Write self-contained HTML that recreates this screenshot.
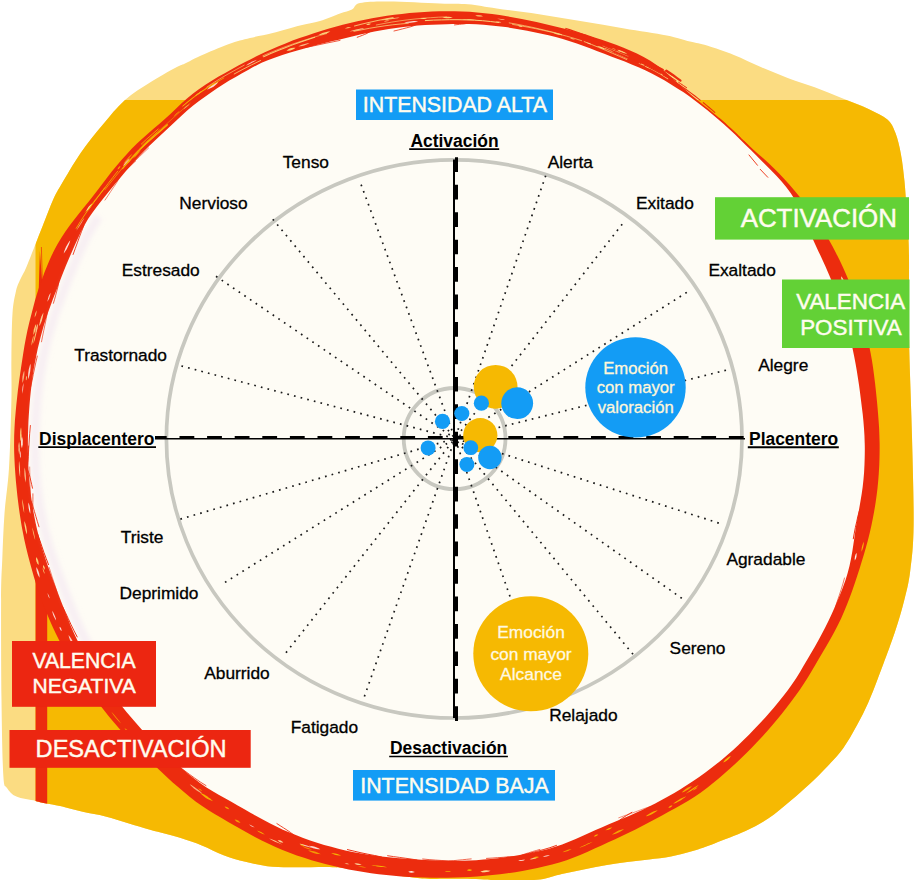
<!DOCTYPE html>
<html lang="es"><head><meta charset="utf-8"><title>Circumplejo de emociones</title>
<style>
html,body{margin:0;padding:0;background:#fff;}
body{width:917px;height:880px;overflow:hidden;}
svg{display:block;}
text{font-family:"Liberation Sans",sans-serif;}
.lb{font-size:17.33px;fill:#000;stroke:#000;stroke-width:0.3px;}
.ax{font-size:17.45px;font-weight:bold;fill:#000;}
.ct{font-size:16.7px;fill:#FFF6D8;stroke:#FFF6D8;stroke-width:0.3px;text-anchor:middle;}
.bx{fill:#FFFCEE;stroke:#FFFCEE;stroke-width:0.45px;}
</style></head><body>
<svg width="917" height="880" viewBox="0 0 917 880">
<defs><clipPath id="oc"><rect x="35.5" y="100" width="900" height="800"/></clipPath>
<clipPath id="bc"><path d="M3.3,775.0C2.4,760.3 1.9,729.2 1.5,700.0C1.1,670.8 1.0,623.5 1.1,600.0C1.2,576.5 1.7,573.4 2.3,559.0C2.9,544.6 3.4,528.8 4.5,513.6C5.6,498.4 7.8,486.9 9.0,468.0C10.2,449.1 11.0,418.2 11.4,400.0C11.8,381.8 11.2,373.4 11.4,359.0C11.6,344.6 11.7,324.9 12.5,313.6C13.3,302.3 14.7,296.8 16.0,291.0C17.3,285.2 18.8,282.8 20.5,279.0C22.2,275.2 23.8,273.2 26.0,268.0C28.2,262.8 30.8,256.0 34.0,248.0C37.2,240.0 41.8,228.0 45.0,220.0C48.2,212.0 50.3,205.8 53.0,200.0C55.7,194.2 56.3,192.9 61.0,185.0C65.7,177.1 74.1,162.5 81.0,152.5C87.9,142.5 95.2,133.8 102.5,125.0C109.8,116.2 117.1,107.1 125.0,100.0C132.9,92.9 141.7,87.8 150.0,82.5C158.3,77.2 169.2,71.2 175.0,68.0C180.8,64.8 180.8,65.6 185.0,63.6C189.2,61.6 192.7,59.3 200.0,56.0C207.3,52.7 220.7,47.0 229.0,44.0C237.3,41.0 242.7,39.8 250.0,38.0C257.3,36.2 264.4,35.1 272.7,33.0C281.0,30.9 292.1,27.5 300.0,25.5C307.9,23.5 313.3,23.0 320.0,21.0C326.7,19.0 334.7,15.4 340.0,13.5C345.3,11.6 348.7,11.2 352.0,9.5C355.3,7.8 353.9,4.3 360.0,3.0C366.1,1.7 375.2,1.3 388.5,1.4C401.8,1.5 426.8,2.9 440.0,3.4C453.2,3.9 458.6,3.4 468.0,4.3C477.4,5.1 484.9,6.9 496.7,8.5C508.5,10.2 524.8,12.1 539.0,14.2C553.2,16.3 567.6,18.9 581.8,21.3C596.0,23.7 610.1,26.0 624.3,28.4C638.5,30.8 655.8,33.2 666.8,35.4C677.8,37.6 683.3,39.8 690.0,41.5C696.7,43.2 699.7,43.4 707.0,45.6C714.3,47.9 724.9,51.4 733.9,55.0C742.9,58.6 751.8,63.3 760.8,67.1C769.8,70.9 778.7,74.5 787.7,77.9C796.7,81.3 805.7,83.9 814.7,87.3C823.7,90.7 832.6,94.5 841.6,98.1C850.6,101.7 860.9,105.3 868.5,108.9C876.1,112.5 882.9,115.6 887.4,119.6C891.9,123.6 893.2,127.2 895.5,133.1C897.8,138.9 899.5,146.6 901.0,154.7C902.5,162.8 903.6,172.6 904.5,181.6C905.4,190.6 905.9,200.1 906.5,208.5C907.1,216.9 907.8,223.9 908.2,232.0C908.6,240.1 908.9,245.7 909.0,257.0C909.1,268.3 909.0,284.5 909.0,300.0C909.0,315.5 908.8,327.2 909.3,350.0C909.8,372.8 911.3,407.8 912.0,437.0C912.7,466.2 913.9,503.2 913.6,525.5C913.3,547.8 911.8,558.5 910.2,570.9C908.7,583.3 906.8,589.9 904.3,600.0C901.8,610.1 898.5,621.2 895.0,631.8C891.5,642.4 886.5,655.6 883.5,663.6C880.5,671.6 879.8,673.5 877.3,680.0C874.8,686.5 871.6,695.1 868.2,702.7C864.8,710.3 861.0,717.9 856.8,725.5C852.6,733.1 848.1,741.4 843.2,748.2C838.3,755.0 833.0,760.4 827.3,766.4C821.6,772.4 815.2,778.8 809.1,784.5C803.0,790.2 797.7,794.8 790.9,800.5C784.1,806.2 775.8,813.5 768.2,818.6C760.6,823.7 754.5,827.0 745.5,831.1C736.5,835.2 723.3,840.1 714.5,843.4C705.7,846.7 700.0,848.8 692.7,851.0C685.4,853.2 678.2,855.1 670.9,856.5C663.6,857.9 656.3,858.5 649.0,859.4C641.7,860.3 634.5,861.0 627.2,862.0C619.9,863.0 612.7,863.9 605.4,865.2C598.1,866.5 590.9,868.1 583.6,869.6C576.3,871.1 569.1,872.4 561.8,874.0C554.5,875.6 549.5,878.2 540.0,879.4C530.5,880.6 514.3,881.0 505.0,881.0C495.7,881.0 493.2,879.9 484.0,879.5C474.8,879.1 460.3,879.0 450.0,878.8C439.7,878.6 433.2,879.4 422.0,878.5C410.8,877.6 395.7,875.0 383.0,873.3C370.3,871.6 354.2,869.3 345.8,868.3C337.4,867.3 338.5,867.4 332.7,867.2C326.9,867.0 318.2,867.2 310.9,867.2C303.6,867.2 296.3,867.4 289.0,867.2C281.7,867.0 274.5,867.1 267.2,866.2C259.9,865.3 252.7,863.6 245.4,861.8C238.1,860.0 230.9,857.9 223.6,855.2C216.3,852.5 209.1,848.3 201.8,845.4C194.5,842.5 188.5,840.4 180.0,837.8C171.5,835.2 159.5,832.4 150.9,830.0C142.3,827.6 135.8,825.5 128.2,823.2C120.6,820.9 113.1,818.3 105.5,816.4C97.9,814.5 90.3,813.5 82.7,811.8C75.1,810.1 66.0,807.5 60.0,806.1C54.0,804.7 50.5,804.5 46.4,803.6C42.3,802.7 40.5,802.1 35.5,800.9C30.5,799.7 21.1,798.8 16.4,796.6C11.6,794.5 9.2,791.6 7.0,788.0C4.8,784.4 4.2,789.7 3.3,775.0Z"/></clipPath></defs>

<path d="M3.3,775.0C2.4,760.3 1.9,729.2 1.5,700.0C1.1,670.8 1.0,623.5 1.1,600.0C1.2,576.5 1.7,573.4 2.3,559.0C2.9,544.6 3.4,528.8 4.5,513.6C5.6,498.4 7.8,486.9 9.0,468.0C10.2,449.1 11.0,418.2 11.4,400.0C11.8,381.8 11.2,373.4 11.4,359.0C11.6,344.6 11.7,324.9 12.5,313.6C13.3,302.3 14.7,296.8 16.0,291.0C17.3,285.2 18.8,282.8 20.5,279.0C22.2,275.2 23.8,273.2 26.0,268.0C28.2,262.8 30.8,256.0 34.0,248.0C37.2,240.0 41.8,228.0 45.0,220.0C48.2,212.0 50.3,205.8 53.0,200.0C55.7,194.2 56.3,192.9 61.0,185.0C65.7,177.1 74.1,162.5 81.0,152.5C87.9,142.5 95.2,133.8 102.5,125.0C109.8,116.2 117.1,107.1 125.0,100.0C132.9,92.9 141.7,87.8 150.0,82.5C158.3,77.2 169.2,71.2 175.0,68.0C180.8,64.8 180.8,65.6 185.0,63.6C189.2,61.6 192.7,59.3 200.0,56.0C207.3,52.7 220.7,47.0 229.0,44.0C237.3,41.0 242.7,39.8 250.0,38.0C257.3,36.2 264.4,35.1 272.7,33.0C281.0,30.9 292.1,27.5 300.0,25.5C307.9,23.5 313.3,23.0 320.0,21.0C326.7,19.0 334.7,15.4 340.0,13.5C345.3,11.6 348.7,11.2 352.0,9.5C355.3,7.8 353.9,4.3 360.0,3.0C366.1,1.7 375.2,1.3 388.5,1.4C401.8,1.5 426.8,2.9 440.0,3.4C453.2,3.9 458.6,3.4 468.0,4.3C477.4,5.1 484.9,6.9 496.7,8.5C508.5,10.2 524.8,12.1 539.0,14.2C553.2,16.3 567.6,18.9 581.8,21.3C596.0,23.7 610.1,26.0 624.3,28.4C638.5,30.8 655.8,33.2 666.8,35.4C677.8,37.6 683.3,39.8 690.0,41.5C696.7,43.2 699.7,43.4 707.0,45.6C714.3,47.9 724.9,51.4 733.9,55.0C742.9,58.6 751.8,63.3 760.8,67.1C769.8,70.9 778.7,74.5 787.7,77.9C796.7,81.3 805.7,83.9 814.7,87.3C823.7,90.7 832.6,94.5 841.6,98.1C850.6,101.7 860.9,105.3 868.5,108.9C876.1,112.5 882.9,115.6 887.4,119.6C891.9,123.6 893.2,127.2 895.5,133.1C897.8,138.9 899.5,146.6 901.0,154.7C902.5,162.8 903.6,172.6 904.5,181.6C905.4,190.6 905.9,200.1 906.5,208.5C907.1,216.9 907.8,223.9 908.2,232.0C908.6,240.1 908.9,245.7 909.0,257.0C909.1,268.3 909.0,284.5 909.0,300.0C909.0,315.5 908.8,327.2 909.3,350.0C909.8,372.8 911.3,407.8 912.0,437.0C912.7,466.2 913.9,503.2 913.6,525.5C913.3,547.8 911.8,558.5 910.2,570.9C908.7,583.3 906.8,589.9 904.3,600.0C901.8,610.1 898.5,621.2 895.0,631.8C891.5,642.4 886.5,655.6 883.5,663.6C880.5,671.6 879.8,673.5 877.3,680.0C874.8,686.5 871.6,695.1 868.2,702.7C864.8,710.3 861.0,717.9 856.8,725.5C852.6,733.1 848.1,741.4 843.2,748.2C838.3,755.0 833.0,760.4 827.3,766.4C821.6,772.4 815.2,778.8 809.1,784.5C803.0,790.2 797.7,794.8 790.9,800.5C784.1,806.2 775.8,813.5 768.2,818.6C760.6,823.7 754.5,827.0 745.5,831.1C736.5,835.2 723.3,840.1 714.5,843.4C705.7,846.7 700.0,848.8 692.7,851.0C685.4,853.2 678.2,855.1 670.9,856.5C663.6,857.9 656.3,858.5 649.0,859.4C641.7,860.3 634.5,861.0 627.2,862.0C619.9,863.0 612.7,863.9 605.4,865.2C598.1,866.5 590.9,868.1 583.6,869.6C576.3,871.1 569.1,872.4 561.8,874.0C554.5,875.6 549.5,878.2 540.0,879.4C530.5,880.6 514.3,881.0 505.0,881.0C495.7,881.0 493.2,879.9 484.0,879.5C474.8,879.1 460.3,879.0 450.0,878.8C439.7,878.6 433.2,879.4 422.0,878.5C410.8,877.6 395.7,875.0 383.0,873.3C370.3,871.6 354.2,869.3 345.8,868.3C337.4,867.3 338.5,867.4 332.7,867.2C326.9,867.0 318.2,867.2 310.9,867.2C303.6,867.2 296.3,867.4 289.0,867.2C281.7,867.0 274.5,867.1 267.2,866.2C259.9,865.3 252.7,863.6 245.4,861.8C238.1,860.0 230.9,857.9 223.6,855.2C216.3,852.5 209.1,848.3 201.8,845.4C194.5,842.5 188.5,840.4 180.0,837.8C171.5,835.2 159.5,832.4 150.9,830.0C142.3,827.6 135.8,825.5 128.2,823.2C120.6,820.9 113.1,818.3 105.5,816.4C97.9,814.5 90.3,813.5 82.7,811.8C75.1,810.1 66.0,807.5 60.0,806.1C54.0,804.7 50.5,804.5 46.4,803.6C42.3,802.7 40.5,802.1 35.5,800.9C30.5,799.7 21.1,798.8 16.4,796.6C11.6,794.5 9.2,791.6 7.0,788.0C4.8,784.4 4.2,789.7 3.3,775.0Z" fill="#FBDC82"/>
<g clip-path="url(#oc)"><path d="M3.3,775.0C2.4,760.3 1.9,729.2 1.5,700.0C1.1,670.8 1.0,623.5 1.1,600.0C1.2,576.5 1.7,573.4 2.3,559.0C2.9,544.6 3.4,528.8 4.5,513.6C5.6,498.4 7.8,486.9 9.0,468.0C10.2,449.1 11.0,418.2 11.4,400.0C11.8,381.8 11.2,373.4 11.4,359.0C11.6,344.6 11.7,324.9 12.5,313.6C13.3,302.3 14.7,296.8 16.0,291.0C17.3,285.2 18.8,282.8 20.5,279.0C22.2,275.2 23.8,273.2 26.0,268.0C28.2,262.8 30.8,256.0 34.0,248.0C37.2,240.0 41.8,228.0 45.0,220.0C48.2,212.0 50.3,205.8 53.0,200.0C55.7,194.2 56.3,192.9 61.0,185.0C65.7,177.1 74.1,162.5 81.0,152.5C87.9,142.5 95.2,133.8 102.5,125.0C109.8,116.2 117.1,107.1 125.0,100.0C132.9,92.9 141.7,87.8 150.0,82.5C158.3,77.2 169.2,71.2 175.0,68.0C180.8,64.8 180.8,65.6 185.0,63.6C189.2,61.6 192.7,59.3 200.0,56.0C207.3,52.7 220.7,47.0 229.0,44.0C237.3,41.0 242.7,39.8 250.0,38.0C257.3,36.2 264.4,35.1 272.7,33.0C281.0,30.9 292.1,27.5 300.0,25.5C307.9,23.5 313.3,23.0 320.0,21.0C326.7,19.0 334.7,15.4 340.0,13.5C345.3,11.6 348.7,11.2 352.0,9.5C355.3,7.8 353.9,4.3 360.0,3.0C366.1,1.7 375.2,1.3 388.5,1.4C401.8,1.5 426.8,2.9 440.0,3.4C453.2,3.9 458.6,3.4 468.0,4.3C477.4,5.1 484.9,6.9 496.7,8.5C508.5,10.2 524.8,12.1 539.0,14.2C553.2,16.3 567.6,18.9 581.8,21.3C596.0,23.7 610.1,26.0 624.3,28.4C638.5,30.8 655.8,33.2 666.8,35.4C677.8,37.6 683.3,39.8 690.0,41.5C696.7,43.2 699.7,43.4 707.0,45.6C714.3,47.9 724.9,51.4 733.9,55.0C742.9,58.6 751.8,63.3 760.8,67.1C769.8,70.9 778.7,74.5 787.7,77.9C796.7,81.3 805.7,83.9 814.7,87.3C823.7,90.7 832.6,94.5 841.6,98.1C850.6,101.7 860.9,105.3 868.5,108.9C876.1,112.5 882.9,115.6 887.4,119.6C891.9,123.6 893.2,127.2 895.5,133.1C897.8,138.9 899.5,146.6 901.0,154.7C902.5,162.8 903.6,172.6 904.5,181.6C905.4,190.6 905.9,200.1 906.5,208.5C907.1,216.9 907.8,223.9 908.2,232.0C908.6,240.1 908.9,245.7 909.0,257.0C909.1,268.3 909.0,284.5 909.0,300.0C909.0,315.5 908.8,327.2 909.3,350.0C909.8,372.8 911.3,407.8 912.0,437.0C912.7,466.2 913.9,503.2 913.6,525.5C913.3,547.8 911.8,558.5 910.2,570.9C908.7,583.3 906.8,589.9 904.3,600.0C901.8,610.1 898.5,621.2 895.0,631.8C891.5,642.4 886.5,655.6 883.5,663.6C880.5,671.6 879.8,673.5 877.3,680.0C874.8,686.5 871.6,695.1 868.2,702.7C864.8,710.3 861.0,717.9 856.8,725.5C852.6,733.1 848.1,741.4 843.2,748.2C838.3,755.0 833.0,760.4 827.3,766.4C821.6,772.4 815.2,778.8 809.1,784.5C803.0,790.2 797.7,794.8 790.9,800.5C784.1,806.2 775.8,813.5 768.2,818.6C760.6,823.7 754.5,827.0 745.5,831.1C736.5,835.2 723.3,840.1 714.5,843.4C705.7,846.7 700.0,848.8 692.7,851.0C685.4,853.2 678.2,855.1 670.9,856.5C663.6,857.9 656.3,858.5 649.0,859.4C641.7,860.3 634.5,861.0 627.2,862.0C619.9,863.0 612.7,863.9 605.4,865.2C598.1,866.5 590.9,868.1 583.6,869.6C576.3,871.1 569.1,872.4 561.8,874.0C554.5,875.6 549.5,878.2 540.0,879.4C530.5,880.6 514.3,881.0 505.0,881.0C495.7,881.0 493.2,879.9 484.0,879.5C474.8,879.1 460.3,879.0 450.0,878.8C439.7,878.6 433.2,879.4 422.0,878.5C410.8,877.6 395.7,875.0 383.0,873.3C370.3,871.6 354.2,869.3 345.8,868.3C337.4,867.3 338.5,867.4 332.7,867.2C326.9,867.0 318.2,867.2 310.9,867.2C303.6,867.2 296.3,867.4 289.0,867.2C281.7,867.0 274.5,867.1 267.2,866.2C259.9,865.3 252.7,863.6 245.4,861.8C238.1,860.0 230.9,857.9 223.6,855.2C216.3,852.5 209.1,848.3 201.8,845.4C194.5,842.5 188.5,840.4 180.0,837.8C171.5,835.2 159.5,832.4 150.9,830.0C142.3,827.6 135.8,825.5 128.2,823.2C120.6,820.9 113.1,818.3 105.5,816.4C97.9,814.5 90.3,813.5 82.7,811.8C75.1,810.1 66.0,807.5 60.0,806.1C54.0,804.7 50.5,804.5 46.4,803.6C42.3,802.7 40.5,802.1 35.5,800.9C30.5,799.7 21.1,798.8 16.4,796.6C11.6,794.5 9.2,791.6 7.0,788.0C4.8,784.4 4.2,789.7 3.3,775.0Z" fill="#F6B902"/></g>
<g clip-path="url(#bc)"><rect x="35.6" y="560" width="11.6" height="260" fill="#EC2C0E"/></g>
<path d="M38.6,294 L39.9,251 L42.6,288 L43.3,294Z" fill="#EC2C0E"/><path d="M41.4,247 L42.6,292" stroke="#EC2C0E" stroke-width="0.7" fill="none"/>
<path d="M14.1,443.0C14.1,438.0 14.2,432.9 14.5,427.9C14.7,422.9 15.1,417.8 15.6,412.8C16.0,407.8 16.5,402.8 17.1,397.8C17.6,392.8 18.2,387.8 18.9,382.8C19.5,377.8 20.3,372.9 21.0,367.9C21.8,362.9 22.5,357.9 23.3,352.9C24.1,348.0 24.9,343.0 25.9,338.0C26.8,333.0 28.0,328.1 29.1,323.2C30.3,318.3 31.6,313.3 32.9,308.4C34.2,303.5 35.5,298.6 37.0,293.8C38.5,288.9 40.2,284.1 42.0,279.4C43.7,274.6 45.5,269.8 47.5,265.1C49.4,260.4 51.4,255.7 53.7,251.2C56.0,246.6 58.5,242.2 61.2,237.9C63.9,233.6 66.9,229.4 69.9,225.3C72.9,221.2 76.1,217.2 79.2,213.2C82.4,209.2 85.7,205.3 88.8,201.4C91.9,197.4 95.0,193.5 98.1,189.5C101.2,185.5 104.1,181.4 107.2,177.5C110.2,173.5 113.3,169.6 116.6,165.7C119.8,161.9 123.1,158.1 126.5,154.4C129.9,150.7 133.4,147.1 137.0,143.6C140.6,140.1 144.3,136.8 148.1,133.5C151.8,130.1 155.8,127.0 159.5,123.7C163.3,120.4 167.0,117.1 170.7,113.7C174.4,110.3 177.9,106.7 181.6,103.3C185.3,100.0 189.2,96.7 193.1,93.6C197.1,90.5 201.2,87.6 205.4,84.8C209.6,82.1 213.9,79.4 218.2,76.8C222.5,74.3 226.9,71.8 231.3,69.4C235.7,67.0 240.2,64.7 244.6,62.3C249.1,60.0 253.5,57.7 258.0,55.5C262.5,53.3 267.1,51.2 271.7,49.2C276.3,47.2 280.9,45.3 285.6,43.4C290.2,41.6 294.9,39.8 299.6,38.1C304.4,36.4 309.1,34.8 313.9,33.2C318.6,31.7 323.4,30.2 328.2,28.8C333.0,27.4 337.9,26.1 342.7,24.8C347.6,23.6 352.5,22.4 357.4,21.3C362.3,20.2 367.2,19.2 372.1,18.3C377.0,17.4 382.0,16.6 387.0,15.8C391.9,15.1 396.9,14.4 401.9,13.9C406.9,13.3 411.9,12.8 416.9,12.5C421.9,12.1 426.9,11.8 431.9,11.6C437.0,11.4 442.0,11.3 447.0,11.3C452.0,11.3 457.0,11.4 462.1,11.6C467.1,11.8 472.1,12.0 477.1,12.4C482.1,12.9 487.1,13.4 492.1,14.0C497.1,14.7 502.0,15.5 507.0,16.3C511.9,17.1 516.8,18.1 521.8,19.0C526.7,20.0 531.6,21.0 536.5,22.0C541.4,23.1 546.3,24.2 551.1,25.4C556.0,26.6 560.8,27.8 565.7,29.1C570.5,30.4 575.4,31.7 580.2,33.1C585.0,34.4 589.9,35.8 594.6,37.4C599.4,38.9 604.2,40.5 608.9,42.2C613.7,43.9 618.4,45.7 623.0,47.6C627.7,49.5 632.4,51.4 636.9,53.6C641.4,55.8 646.0,58.1 650.3,60.7C654.5,63.4 658.6,66.5 662.6,69.6C666.5,72.8 670.2,76.3 674.0,79.7C677.8,83.0 681.5,86.5 685.3,89.7C689.0,93.0 692.8,96.2 696.7,99.4C700.5,102.5 704.4,105.6 708.2,108.7C712.0,111.8 715.8,114.9 719.6,118.2C723.3,121.4 727.0,124.7 730.6,128.0C734.2,131.4 737.8,134.8 741.3,138.2C744.9,141.6 748.5,145.0 752.1,148.4C755.7,151.7 759.5,154.9 763.2,158.3C766.9,161.7 770.6,165.0 774.1,168.5C777.7,172.0 781.1,175.6 784.5,179.3C787.9,183.0 791.2,186.8 794.4,190.6C797.6,194.5 800.8,198.4 803.8,202.3C806.9,206.3 810.0,210.3 812.9,214.4C815.8,218.5 818.6,222.7 821.3,226.9C824.0,231.2 826.5,235.5 829.0,239.9C831.5,244.3 833.8,248.7 836.1,253.2C838.4,257.7 840.6,262.2 842.7,266.8C844.8,271.4 846.9,276.0 848.8,280.7C850.7,285.3 852.5,290.1 854.2,294.8C855.9,299.5 857.5,304.3 859.1,309.1C860.6,313.9 862.1,318.7 863.5,323.6C864.9,328.4 866.2,333.3 867.4,338.2C868.6,343.1 869.6,348.0 870.6,353.0C871.6,357.9 872.4,362.9 873.1,367.9C873.8,372.8 874.4,377.8 875.0,382.8C875.6,387.8 876.1,392.8 876.6,397.8C877.1,402.8 877.6,407.8 878.0,412.9C878.4,417.9 878.8,422.9 879.1,427.9C879.3,432.9 879.5,438.0 879.6,443.0C879.7,448.0 879.6,453.1 879.5,458.1C879.4,463.1 879.2,468.2 878.8,473.2C878.5,478.2 878.0,483.2 877.5,488.2C876.9,493.2 876.3,498.2 875.5,503.2C874.7,508.2 873.9,513.2 872.9,518.1C872.0,523.0 870.9,528.0 869.7,532.9C868.6,537.7 867.3,542.6 865.9,547.5C864.6,552.3 863.1,557.1 861.6,561.9C860.2,566.7 858.6,571.5 857.1,576.2C855.5,581.0 853.9,585.8 852.3,590.5C850.6,595.2 848.9,600.0 847.0,604.6C845.1,609.3 843.2,613.9 841.1,618.4C838.9,623.0 836.7,627.5 834.3,631.9C832.0,636.3 829.5,640.7 827.0,645.0C824.5,649.4 821.8,653.6 819.3,657.9C816.8,662.3 814.3,666.6 811.7,670.9C809.1,675.2 806.6,679.5 803.8,683.7C801.1,687.9 798.3,692.0 795.3,696.1C792.4,700.2 789.4,704.1 786.3,708.1C783.2,712.1 780.1,716.0 776.9,719.8C773.7,723.7 770.4,727.5 767.1,731.2C763.8,735.0 760.4,738.7 756.9,742.3C753.5,746.0 750.0,749.6 746.5,753.1C742.9,756.6 739.3,760.1 735.6,763.5C731.9,767.0 728.2,770.3 724.4,773.6C720.6,776.9 716.8,780.1 712.8,783.3C708.9,786.4 705.0,789.5 700.9,792.4C696.8,795.4 692.6,798.2 688.3,800.8C684.1,803.4 679.6,805.8 675.2,808.3C670.8,810.7 666.4,813.0 662.0,815.4C657.6,817.8 653.2,820.2 648.8,822.5C644.4,824.9 639.9,827.2 635.5,829.4C631.0,831.6 626.4,833.7 621.9,835.9C617.4,838.0 612.9,840.1 608.3,842.3C603.8,844.4 599.2,846.6 594.6,848.6C590.1,850.7 585.4,852.8 580.8,854.7C576.1,856.6 571.4,858.5 566.6,860.2C561.9,861.8 557.0,863.3 552.1,864.6C547.2,865.9 542.3,867.0 537.4,868.1C532.4,869.1 527.4,870.0 522.4,870.9C517.5,871.7 512.5,872.5 507.5,873.2C502.5,873.9 497.4,874.5 492.4,875.0C487.4,875.5 482.3,876.0 477.3,876.4C472.3,876.7 467.2,877.1 462.2,877.3C457.1,877.5 452.1,877.7 447.0,877.7C441.9,877.8 436.9,877.7 431.8,877.7C426.8,877.6 421.7,877.4 416.6,877.2C411.6,877.0 406.5,876.7 401.4,876.4C396.4,876.0 391.3,875.6 386.3,875.1C381.2,874.6 376.2,874.0 371.1,873.2C366.1,872.5 361.1,871.7 356.1,870.8C351.1,869.9 346.1,868.9 341.1,867.7C336.1,866.6 331.2,865.4 326.2,864.2C321.3,862.9 316.4,861.6 311.5,860.2C306.6,858.7 301.7,857.2 296.8,855.6C292.0,853.9 287.2,852.0 282.5,850.1C277.8,848.1 273.2,845.9 268.6,843.7C264.0,841.5 259.4,839.2 254.9,836.9C250.4,834.5 245.9,832.0 241.5,829.5C237.0,827.1 232.6,824.5 228.2,822.0C223.8,819.4 219.4,816.9 215.0,814.3C210.7,811.6 206.3,808.9 202.1,806.0C197.9,803.1 193.9,800.1 189.9,796.9C185.9,793.8 182.0,790.5 178.1,787.1C174.3,783.8 170.5,780.4 166.8,776.9C163.1,773.5 159.4,770.0 155.7,766.5C152.1,763.0 148.4,759.5 144.8,755.9C141.3,752.3 137.7,748.7 134.2,745.0C130.8,741.4 127.3,737.6 124.0,733.9C120.6,730.1 117.3,726.3 114.0,722.4C110.7,718.5 107.5,714.7 104.4,710.7C101.2,706.7 98.1,702.7 95.1,698.7C92.1,694.6 89.1,690.5 86.2,686.3C83.4,682.2 80.6,677.9 77.9,673.7C75.2,669.4 72.6,665.0 70.1,660.6C67.5,656.2 65.1,651.8 62.8,647.3C60.4,642.8 58.1,638.3 55.9,633.7C53.8,629.2 51.6,624.6 49.6,619.9C47.6,615.3 45.7,610.6 43.8,605.9C42.0,601.2 40.3,596.4 38.6,591.6C37.0,586.8 35.5,582.0 34.0,577.2C32.6,572.3 31.2,567.5 29.9,562.6C28.6,557.7 27.3,552.8 26.2,547.9C25.0,543.0 23.9,538.1 23.0,533.1C22.0,528.2 21.1,523.2 20.4,518.2C19.6,513.2 18.9,508.3 18.3,503.3C17.6,498.3 17.1,493.2 16.6,488.2C16.1,483.2 15.6,478.2 15.3,473.2C14.9,468.2 14.6,463.1 14.4,458.1C14.2,453.1 14.0,448.0 14.1,443.0Z" fill="#EC2C0E"/>
<path d="M27.9,443.0C27.9,438.1 28.0,433.2 28.2,428.4C28.3,423.5 28.6,418.6 28.9,413.8C29.2,408.9 29.6,404.0 30.0,399.2C30.5,394.3 31.0,389.5 31.6,384.6C32.2,379.8 32.8,374.9 33.6,370.1C34.4,365.3 35.3,360.5 36.3,355.7C37.2,350.9 38.3,346.1 39.5,341.4C40.7,336.7 42.0,331.9 43.3,327.3C44.7,322.6 46.2,317.9 47.8,313.3C49.4,308.7 51.1,304.1 52.8,299.5C54.5,295.0 56.3,290.4 58.1,285.9C59.8,281.3 61.5,276.7 63.3,272.2C65.2,267.6 67.0,263.1 69.0,258.6C70.9,254.1 72.9,249.6 74.9,245.1C76.9,240.6 78.8,236.1 81.0,231.7C83.3,227.3 85.6,223.0 88.2,218.8C90.9,214.7 93.8,210.7 96.8,206.8C99.7,202.8 102.8,199.0 105.9,195.2C108.9,191.3 112.1,187.6 115.2,183.8C118.4,180.0 121.5,176.3 124.7,172.5C127.9,168.8 131.0,165.1 134.3,161.5C137.6,157.8 141.0,154.3 144.4,150.8C147.9,147.3 151.4,144.0 155.0,140.6C158.5,137.2 162.1,133.9 165.7,130.6C169.3,127.2 172.8,123.9 176.4,120.5C180.0,117.2 183.5,113.7 187.2,110.5C190.9,107.3 194.8,104.3 198.7,101.3C202.7,98.3 206.7,95.5 210.7,92.7C214.7,89.9 218.8,87.1 223.0,84.4C227.1,81.8 231.4,79.4 235.7,77.0C239.9,74.5 244.2,72.0 248.5,69.7C252.8,67.3 257.1,64.9 261.6,62.8C266.1,60.8 270.7,59.0 275.3,57.4C279.9,55.7 284.7,54.3 289.4,52.8C294.0,51.4 298.8,50.0 303.5,48.7C308.2,47.3 312.9,46.0 317.6,44.8C322.3,43.5 327.1,42.3 331.8,41.2C336.5,40.1 341.3,39.0 346.0,37.9C350.7,36.8 355.5,35.7 360.2,34.6C364.9,33.6 369.7,32.5 374.5,31.6C379.2,30.6 384.0,29.8 388.8,29.0C393.6,28.2 398.4,27.6 403.3,27.0C408.1,26.4 413.0,26.0 417.8,25.6C422.7,25.2 427.5,24.9 432.4,24.7C437.3,24.5 442.1,24.3 447.0,24.2C451.9,24.0 456.8,23.9 461.6,24.0C466.5,24.0 471.4,24.1 476.3,24.3C481.2,24.5 486.0,24.9 490.9,25.4C495.8,25.8 500.6,26.5 505.4,27.1C510.3,27.8 515.1,28.6 519.9,29.4C524.7,30.3 529.5,31.2 534.3,32.2C539.1,33.1 543.9,34.2 548.6,35.3C553.4,36.5 558.1,37.7 562.8,39.0C567.5,40.4 572.2,41.9 576.8,43.4C581.5,45.0 586.0,46.7 590.6,48.4C595.2,50.2 599.7,52.0 604.3,53.8C608.8,55.6 613.4,57.3 617.9,59.1C622.5,60.9 627.1,62.5 631.7,64.4C636.2,66.3 640.8,68.2 645.2,70.2C649.6,72.3 654.0,74.6 658.3,77.0C662.6,79.3 666.9,81.8 671.1,84.4C675.3,87.0 679.5,89.5 683.6,92.3C687.6,95.0 691.6,98.0 695.5,100.9C699.4,103.9 703.3,107.0 707.1,110.1C710.9,113.2 714.7,116.3 718.4,119.5C722.1,122.7 725.8,126.0 729.4,129.3C733.1,132.6 736.6,136.1 740.1,139.5C743.6,142.9 747.1,146.4 750.6,149.8C754.1,153.3 757.6,156.8 761.0,160.2C764.5,163.7 768.1,167.2 771.5,170.7C774.9,174.3 778.4,177.8 781.6,181.6C784.8,185.3 788.0,189.2 790.8,193.2C793.6,197.3 796.0,201.6 798.3,206.0C800.7,210.4 802.6,215.0 804.6,219.5C806.6,224.1 808.4,228.7 810.3,233.2C812.2,237.8 814.2,242.2 816.3,246.7C818.3,251.1 820.5,255.4 822.5,259.9C824.5,264.3 826.5,268.7 828.4,273.2C830.4,277.6 832.2,282.1 834.0,286.7C835.7,291.2 837.4,295.7 839.1,300.3C840.7,304.9 842.2,309.5 843.6,314.1C845.1,318.8 846.4,323.4 847.6,328.1C848.9,332.8 850.1,337.5 851.2,342.2C852.3,347.0 853.3,351.7 854.2,356.4C855.2,361.2 856.0,366.0 856.8,370.7C857.6,375.5 858.3,380.3 859.0,385.1C859.7,389.9 860.3,394.7 860.9,399.5C861.5,404.3 862.1,409.1 862.7,413.9C863.2,418.8 863.7,423.6 864.0,428.4C864.4,433.3 864.6,438.1 864.7,443.0C864.9,447.9 864.8,452.7 864.7,457.6C864.6,462.4 864.4,467.3 864.1,472.2C863.7,477.0 863.3,481.9 862.7,486.7C862.1,491.5 861.3,496.3 860.5,501.1C859.7,505.9 858.8,510.7 858.0,515.5C857.1,520.2 856.3,525.0 855.5,529.8C854.8,534.6 854.2,539.5 853.4,544.3C852.7,549.2 852.0,554.0 851.0,558.8C850.1,563.7 849.0,568.5 847.6,573.2C846.3,577.9 844.7,582.5 843.0,587.1C841.3,591.7 839.4,596.3 837.5,600.8C835.6,605.3 833.7,609.8 831.6,614.2C829.5,618.7 827.4,623.1 825.2,627.4C823.0,631.8 820.6,636.1 818.3,640.4C815.9,644.7 813.5,648.9 811.0,653.2C808.6,657.4 806.1,661.6 803.6,665.8C801.1,670.1 798.7,674.3 796.0,678.4C793.3,682.5 790.5,686.5 787.6,690.5C784.7,694.4 781.6,698.2 778.5,702.0C775.4,705.8 772.2,709.5 769.0,713.2C765.8,716.9 762.5,720.5 759.2,724.1C755.9,727.7 752.5,731.2 749.0,734.7C745.6,738.1 742.1,741.5 738.5,744.9C735.0,748.2 731.3,751.5 727.6,754.7C724.0,757.9 720.2,761.0 716.4,764.1C712.6,767.1 708.7,770.0 704.7,772.9C700.8,775.8 696.8,778.5 692.8,781.3C688.7,784.0 684.6,786.6 680.5,789.2C676.4,791.7 672.2,794.2 668.0,796.6C663.7,799.0 659.5,801.3 655.2,803.5C650.8,805.8 646.5,807.9 642.1,809.9C637.7,812.0 633.3,813.9 628.9,815.9C624.4,817.8 620.0,819.6 615.5,821.5C611.1,823.4 606.7,825.3 602.2,827.3C597.8,829.2 593.4,831.1 589.0,833.1C584.6,835.1 580.2,837.1 575.7,839.1C571.2,841.0 566.7,843.0 562.2,844.6C557.6,846.3 552.9,847.7 548.2,848.9C543.5,850.2 538.7,851.2 534.0,852.2C529.2,853.2 524.4,854.1 519.6,855.0C514.9,855.8 510.0,856.6 505.2,857.3C500.4,858.0 495.6,858.6 490.7,859.1C485.9,859.5 481.0,859.9 476.2,860.2C471.3,860.5 466.5,860.7 461.6,860.7C456.7,860.8 451.9,860.8 447.0,860.7C442.1,860.6 437.3,860.4 432.4,860.2C427.6,860.0 422.7,859.7 417.9,859.4C413.0,859.1 408.2,858.8 403.3,858.5C398.5,858.1 393.6,857.7 388.8,857.2C383.9,856.7 379.1,856.1 374.3,855.4C369.4,854.8 364.6,854.1 359.8,853.2C355.0,852.4 350.2,851.4 345.4,850.4C340.7,849.3 335.9,848.1 331.2,846.8C326.5,845.6 321.8,844.2 317.1,842.7C312.5,841.2 307.8,839.7 303.2,838.0C298.7,836.3 294.1,834.5 289.6,832.6C285.1,830.6 280.7,828.6 276.3,826.4C271.9,824.3 267.6,822.1 263.2,819.8C258.9,817.5 254.6,815.2 250.4,812.8C246.1,810.4 241.9,808.0 237.7,805.6C233.4,803.1 229.2,800.7 225.0,798.3C220.8,795.8 216.5,793.5 212.3,790.9C208.2,788.4 204.0,785.8 200.0,782.9C196.0,780.1 192.2,777.0 188.4,773.9C184.6,770.9 181.0,767.6 177.3,764.4C173.6,761.2 170.0,757.9 166.4,754.6C162.9,751.3 159.4,747.9 155.9,744.4C152.5,741.0 149.1,737.5 145.7,733.9C142.4,730.4 139.2,726.7 136.0,723.1C132.8,719.4 129.7,715.6 126.5,711.9C123.4,708.1 120.4,704.4 117.3,700.6C114.3,696.8 111.2,693.0 108.3,689.1C105.4,685.2 102.5,681.3 99.7,677.3C96.9,673.3 94.2,669.2 91.6,665.1C89.0,661.0 86.4,656.8 84.0,652.6C81.6,648.3 79.3,644.0 77.1,639.7C75.0,635.3 73.0,630.8 71.0,626.4C69.1,621.9 67.4,617.3 65.6,612.8C63.8,608.3 62.1,603.7 60.3,599.2C58.6,594.7 56.8,590.2 55.1,585.6C53.4,581.1 51.7,576.5 50.1,572.0C48.4,567.4 46.8,562.8 45.3,558.2C43.8,553.6 42.3,548.9 40.9,544.2C39.6,539.6 38.3,534.8 37.2,530.1C36.1,525.4 35.1,520.6 34.2,515.8C33.3,511.0 32.5,506.2 31.8,501.4C31.0,496.5 30.4,491.7 29.9,486.8C29.4,482.0 29.0,477.1 28.7,472.2C28.4,467.4 28.2,462.5 28.1,457.6C27.9,452.8 27.9,447.9 27.9,443.0Z" fill="#FEFCF5"/>
<filter id="bl" x="-50%" y="-10%" width="200%" height="120%"><feGaussianBlur stdDeviation="2.5"/></filter>
<path d="M90.1,649.1 L80.3,629.9 L72.0,610.0 L64.2,589.9 L56.7,569.8 L49.8,549.4 L44.1,528.6 L39.8,507.5 L36.9,486.1 L35.3,464.6 L34.9,443.0 L35.4,421.4 L37.0,399.9 L39.4,378.5 L43.1,357.1 L48.1,336.1 L54.4,315.4 L61.9,295.2 L69.7,275.0 L78.1,255.0 L87.1,235.2 L98.3,216.6" fill="none" stroke="#E9D2EE" stroke-opacity="0.3" stroke-width="9" filter="url(#bl)"/>
<path d="M254.6,827.6 L253.1,827.1 L251.6,826.4 L250.3,825.6 L249.0,824.6 L249.0,824.6 L250.6,825.1 L252.0,825.7 L253.3,826.6 L254.6,827.6Z" fill="#FEFCF5" opacity="0.77"/>
<path d="M76.3,230.7 L77.1,228.9 L78.0,227.2 L79.0,225.6 L80.0,223.9 L81.0,222.3 L82.1,220.7 L83.2,219.2 L84.4,217.7 L84.4,217.7 L83.6,219.4 L82.6,221.1 L81.7,222.7 L80.7,224.3 L79.6,226.0 L78.6,227.5 L77.5,229.1 L76.3,230.7Z" fill="#FBD9A0" opacity="0.77"/>
<path d="M644.8,65.7 L646.4,65.9 L647.8,66.4 L649.0,67.3 L650.0,68.5 L650.0,68.5 L648.5,68.3 L647.1,67.7 L645.9,66.9 L644.8,65.7Z" fill="#FBDC82" opacity="0.89"/>
<path d="M110.1,698.7 L108.5,697.4 L107.1,696.0 L105.7,694.5 L104.5,692.9 L103.3,691.3 L102.3,689.6 L101.3,687.8 L100.4,686.0 L100.4,686.0 L102.0,687.3 L103.4,688.8 L104.7,690.3 L105.9,691.8 L107.1,693.5 L108.2,695.1 L109.2,696.9 L110.1,698.7Z" fill="#F6B902" opacity="0.85"/>
<path d="M33.4,334.9 L33.4,332.9 L33.6,331.0 L33.9,329.2 L34.5,327.4 L35.2,325.6 L36.1,323.9 L36.1,323.9 L36.1,325.9 L35.8,327.8 L35.5,329.6 L34.9,331.4 L34.2,333.2 L33.4,334.9Z" fill="#FBDC82" opacity="0.90"/>
<path d="M173.4,116.9 L174.9,115.1 L176.4,113.5 L178.1,112.0 L179.9,110.7 L179.9,110.7 L178.5,112.5 L176.9,114.1 L175.2,115.6 L173.4,116.9Z" fill="#F6B902" opacity="0.90"/>
<path d="M19.2,452.6 L18.7,450.5 L18.5,448.3 L18.4,446.1 L18.6,444.0 L19.1,441.8 L19.1,441.8 L19.5,444.0 L19.7,446.1 L19.7,448.3 L19.5,450.5 L19.2,452.6Z" fill="#FBD9A0" opacity="0.84"/>
<path d="M451.2,871.6 L449.6,871.9 L447.9,872.0 L446.3,871.9 L444.6,871.6 L444.6,871.6 L446.3,871.3 L447.9,871.2 L449.6,871.3 L451.2,871.6Z" fill="#F6B902" opacity="0.88"/>
<path d="M391.9,18.6 L393.8,18.0 L395.8,17.7 L397.7,17.5 L399.7,17.6 L399.7,17.6 L397.8,18.2 L395.9,18.5 L393.9,18.7 L391.9,18.6Z" fill="#FBD9A0" opacity="0.79"/>
<path d="M213.1,801.3 L211.2,800.6 L209.3,799.8 L207.6,799.0 L205.9,797.9 L204.3,796.8 L202.8,795.5 L201.4,794.2 L200.0,792.7 L200.0,792.7 L201.9,793.4 L203.6,794.3 L205.4,795.3 L207.0,796.3 L208.6,797.4 L210.2,798.6 L211.7,799.9 L213.1,801.3Z" fill="#F6B902" opacity="0.94"/>
<path d="M63.7,253.6 L64.1,251.8 L64.7,250.0 L65.4,248.2 L66.2,246.5 L67.1,244.9 L68.1,243.3 L69.1,241.7 L70.3,240.3 L70.3,240.3 L69.8,242.1 L69.1,243.9 L68.4,245.6 L67.6,247.3 L66.8,248.9 L65.8,250.5 L64.8,252.1 L63.7,253.6Z" fill="#FEFCF5" opacity="0.87"/>
<path d="M569.9,37.9 L571.3,37.9 L572.6,38.2 L573.8,38.7 L575.0,39.4 L575.0,39.4 L573.6,39.4 L572.3,39.2 L571.1,38.7 L569.9,37.9Z" fill="#FBDC82" opacity="0.77"/>
<path d="M318.6,35.0 L320.4,33.9 L322.3,33.1 L324.2,32.4 L326.2,31.9 L328.3,31.6 L330.4,31.6 L330.4,31.6 L328.5,32.6 L326.7,33.4 L324.7,34.1 L322.8,34.6 L320.7,34.9 L318.6,35.0Z" fill="#FBDC82" opacity="0.93"/>
<path d="M202.3,793.5 L200.4,792.7 L198.7,791.8 L197.0,790.7 L195.4,789.6 L193.9,788.4 L192.4,787.1 L191.0,785.7 L189.7,784.2 L189.7,784.2 L191.4,785.1 L193.1,786.2 L194.7,787.3 L196.3,788.4 L197.8,789.6 L199.4,790.8 L200.8,792.1 L202.3,793.5Z" fill="#FBD9A0" opacity="0.76"/>
<path d="M495.5,21.6 L497.0,21.4 L498.5,21.4 L500.0,21.8 L501.4,22.4 L501.4,22.4 L499.9,22.7 L498.4,22.6 L496.9,22.3 L495.5,21.6Z" fill="#FBD9A0" opacity="0.77"/>
<path d="M39.6,577.7 L38.4,575.7 L37.5,573.7 L36.8,571.6 L36.4,569.4 L36.3,567.1 L36.3,567.1 L37.5,569.0 L38.4,571.1 L39.1,573.2 L39.5,575.4 L39.6,577.7Z" fill="#FEFCF5" opacity="0.82"/>
<path d="M76.2,661.3 L74.5,659.8 L73.2,658.0 L72.3,656.0 L71.9,653.7 L71.9,653.7 L73.6,655.2 L74.9,657.0 L75.7,659.1 L76.2,661.3Z" fill="#F6B902" opacity="0.77"/>
<path d="M692.0,786.0 L690.6,787.6 L689.0,788.9 L687.4,790.1 L685.6,791.1 L683.8,792.0 L681.7,792.6 L681.7,792.6 L683.2,791.1 L684.7,789.8 L686.4,788.6 L688.1,787.6 L690.0,786.7 L692.0,786.0Z" fill="#F6B902" opacity="0.82"/>
<path d="M153.6,758.4 L151.9,757.4 L150.4,756.3 L149.0,755.0 L147.7,753.6 L146.6,752.1 L145.5,750.4 L145.5,750.4 L147.2,751.4 L148.7,752.6 L150.1,753.9 L151.4,755.3 L152.5,756.8 L153.6,758.4Z" fill="#FEFCF5" opacity="0.99"/>
<path d="M206.9,89.8 L208.2,88.4 L209.6,87.1 L211.1,85.9 L212.7,84.9 L214.4,83.9 L216.1,83.1 L218.0,82.5 L218.0,82.5 L216.6,83.9 L215.2,85.2 L213.7,86.4 L212.1,87.4 L210.4,88.3 L208.7,89.1 L206.9,89.8Z" fill="#FEFCF5" opacity="0.85"/>
<path d="M102.5,696.7 L101.4,695.7 L100.4,694.7 L99.7,693.5 L99.0,692.1 L99.0,692.1 L100.1,693.1 L101.1,694.2 L101.8,695.4 L102.5,696.7Z" fill="#F6B902" opacity="1.00"/>
<path d="M49.6,598.5 L48.8,597.3 L48.2,596.0 L47.8,594.6 L47.6,593.1 L47.6,593.1 L48.3,594.4 L48.9,595.7 L49.4,597.1 L49.6,598.5Z" fill="#FEFCF5" opacity="0.79"/>
<path d="M126.8,164.0 L127.5,162.5 L128.4,161.3 L129.5,160.2 L130.9,159.4 L130.9,159.4 L130.2,160.8 L129.3,162.0 L128.1,163.1 L126.8,164.0Z" fill="#F6B902" opacity="0.87"/>
<path d="M283.3,842.7 L281.7,842.6 L280.2,842.2 L278.8,841.3 L277.6,840.1 L277.6,840.1 L279.3,840.2 L280.8,840.6 L282.2,841.5 L283.3,842.7Z" fill="#FBD9A0" opacity="0.96"/>
<path d="M672.5,805.5 L671.7,806.5 L670.8,807.2 L669.6,807.7 L668.3,807.8 L668.3,807.8 L669.1,806.8 L670.0,806.1 L671.2,805.6 L672.5,805.5Z" fill="#F6B902" opacity="0.92"/>
<path d="M320.3,849.3 L318.3,849.3 L316.2,848.9 L314.3,848.4 L312.4,847.7 L310.5,846.8 L308.8,845.7 L308.8,845.7 L310.9,845.9 L312.9,846.2 L314.8,846.7 L316.7,847.4 L318.6,848.3 L320.3,849.3Z" fill="#FEFCF5" opacity="0.84"/>
<path d="M657.8,810.1 L656.3,811.4 L654.7,812.6 L653.1,813.6 L651.3,814.5 L649.6,815.2 L647.7,815.9 L645.8,816.3 L645.8,816.3 L647.3,815.1 L648.9,814.0 L650.5,813.0 L652.3,812.1 L654.0,811.3 L655.9,810.7 L657.8,810.1Z" fill="#F6B902" opacity="0.91"/>
<path d="M123.3,163.9 L124.4,162.3 L125.6,160.7 L126.9,159.2 L128.2,157.7 L129.6,156.3 L131.0,154.9 L132.6,153.6 L132.6,153.6 L131.4,155.3 L130.2,156.8 L128.9,158.3 L127.6,159.8 L126.2,161.2 L124.8,162.6 L123.3,163.9Z" fill="#F6B902" opacity="0.95"/>
<path d="M420.0,18.7 L421.7,18.2 L423.5,17.9 L425.3,17.9 L427.1,18.3 L427.1,18.3 L425.3,18.8 L423.6,19.1 L421.8,19.0 L420.0,18.7Z" fill="#FBDC82" opacity="1.00"/>
<path d="M552.7,32.6 L554.7,32.7 L556.7,32.9 L558.7,33.5 L560.6,34.2 L562.4,35.2 L562.4,35.2 L560.3,35.1 L558.3,34.8 L556.4,34.3 L554.5,33.6 L552.7,32.6Z" fill="#FBDC82" opacity="0.86"/>
<path d="M525.2,859.7 L523.5,860.4 L521.8,860.8 L520.0,861.0 L518.2,860.9 L518.2,860.9 L519.9,860.3 L521.6,859.9 L523.4,859.7 L525.2,859.7Z" fill="#FEFCF5" opacity="1.00"/>
<path d="M117.5,169.5 L117.9,168.4 L118.5,167.4 L119.3,166.6 L120.4,166.1 L120.4,166.1 L120.0,167.2 L119.4,168.1 L118.6,168.9 L117.5,169.5Z" fill="#F6B902" opacity="0.96"/>
<path d="M344.7,28.6 L346.3,27.7 L347.9,27.1 L349.6,26.9 L351.4,26.9 L351.4,26.9 L349.8,27.8 L348.2,28.3 L346.5,28.6 L344.7,28.6Z" fill="#FBDC82" opacity="0.77"/>
<path d="M35.2,540.1 L34.5,538.3 L34.0,536.5 L33.4,534.6 L33.0,532.8 L32.7,531.0 L32.4,529.1 L32.2,527.2 L32.2,527.2 L32.8,529.0 L33.4,530.8 L33.9,532.6 L34.3,534.5 L34.7,536.3 L35.0,538.2 L35.2,540.1Z" fill="#FBDC82" opacity="0.76"/>
<path d="M86.1,211.4 L87.0,209.5 L88.0,207.8 L89.2,206.2 L90.7,204.7 L92.3,203.4 L92.3,203.4 L91.5,205.3 L90.4,207.0 L89.2,208.6 L87.8,210.1 L86.1,211.4Z" fill="#FEFCF5" opacity="1.00"/>
<path d="M211.8,86.0 L213.4,84.6 L215.2,83.3 L217.0,82.2 L219.0,81.3 L219.0,81.3 L217.4,82.8 L215.6,84.0 L213.8,85.1 L211.8,86.0Z" fill="#FBDC82" opacity="0.95"/>
<path d="M383.9,21.4 L385.3,20.8 L386.7,20.5 L388.1,20.4 L389.6,20.5 L389.6,20.5 L388.2,21.0 L386.8,21.3 L385.4,21.5 L383.9,21.4Z" fill="#FBDC82" opacity="0.96"/>
<path d="M549.9,855.1 L548.2,855.9 L546.4,856.5 L544.6,856.8 L542.7,856.9 L542.7,856.9 L544.4,856.1 L546.2,855.5 L548.0,855.2 L549.9,855.1Z" fill="#FEFCF5" opacity="0.83"/>
<path d="M39.3,326.3 L39.4,324.3 L39.8,322.2 L40.2,320.2 L40.8,318.2 L41.5,316.3 L42.4,314.4 L43.4,312.6 L43.4,312.6 L43.2,314.7 L42.8,316.7 L42.3,318.7 L41.8,320.7 L41.1,322.6 L40.2,324.5 L39.3,326.3Z" fill="#FBD9A0" opacity="0.92"/>
<path d="M617.3,49.8 L619.5,50.1 L621.6,50.6 L623.6,51.4 L625.4,52.5 L627.2,53.8 L627.2,53.8 L624.9,53.6 L622.9,53.0 L620.9,52.2 L619.0,51.2 L617.3,49.8Z" fill="#FBDC82" opacity="0.88"/>
<path d="M26.0,380.4 L25.9,379.2 L25.9,378.0 L26.2,376.8 L26.7,375.7 L26.7,375.7 L26.9,376.9 L26.8,378.1 L26.6,379.3 L26.0,380.4Z" fill="#FBDC82" opacity="0.94"/>
<path d="M697.7,787.2 L696.7,788.3 L695.4,789.3 L694.1,790.1 L692.6,790.6 L692.6,790.6 L693.7,789.5 L694.9,788.6 L696.3,787.8 L697.7,787.2Z" fill="#F6B902" opacity="0.83"/>
<path d="M22.2,393.8 L22.2,391.6 L22.3,389.3 L22.5,387.1 L23.0,384.9 L23.5,382.8 L23.5,382.8 L23.5,385.0 L23.3,387.2 L23.1,389.4 L22.7,391.6 L22.2,393.8Z" fill="#FEFCF5" opacity="0.76"/>
<path d="M598.3,834.4 L597.3,835.4 L596.3,836.0 L595.1,836.4 L593.8,836.4 L593.8,836.4 L594.7,835.4 L595.8,834.8 L597.0,834.5 L598.3,834.4Z" fill="#F6B902" opacity="0.94"/>
<path d="M123.0,166.2 L124.0,164.3 L125.2,162.5 L126.6,161.0 L128.2,159.6 L130.0,158.3 L130.0,158.3 L129.0,160.3 L127.7,162.0 L126.4,163.5 L124.8,165.0 L123.0,166.2Z" fill="#FBD9A0" opacity="0.88"/>
<path d="M596.7,45.9 L598.8,46.2 L600.8,46.7 L602.8,47.5 L604.7,48.4 L606.4,49.6 L606.4,49.6 L604.3,49.3 L602.3,48.7 L600.3,48.0 L598.5,47.1 L596.7,45.9Z" fill="#FBDC82" opacity="0.98"/>
<path d="M571.6,848.9 L569.9,850.0 L568.1,850.9 L566.3,851.6 L564.4,852.1 L562.5,852.3 L562.5,852.3 L564.2,851.3 L566.0,850.5 L567.8,849.7 L569.7,849.2 L571.6,848.9Z" fill="#F6B902" opacity="0.77"/>
<path d="M472.1,870.0 L470.8,870.7 L469.5,871.0 L468.2,870.8 L466.8,870.2 L466.8,870.2 L468.1,869.5 L469.4,869.2 L470.8,869.4 L472.1,870.0Z" fill="#F6B902" opacity="0.98"/>
<path d="M183.1,109.5 L184.6,107.8 L186.2,106.3 L187.9,105.0 L189.8,103.8 L189.8,103.8 L188.3,105.5 L186.7,107.0 L185.0,108.3 L183.1,109.5Z" fill="#FBD9A0" opacity="0.80"/>
<path d="M20.1,477.2 L19.7,475.2 L19.4,473.2 L19.2,471.2 L19.0,469.1 L18.9,467.1 L18.9,465.0 L18.9,463.0 L19.1,461.0 L19.1,461.0 L19.4,463.0 L19.6,465.0 L19.8,467.0 L19.9,469.1 L20.1,471.1 L20.1,473.2 L20.1,475.2 L20.1,477.2Z" fill="#FBD9A0" opacity="1.00"/>
<path d="M96.6,685.0 L95.3,683.6 L94.1,682.1 L93.0,680.5 L92.1,678.9 L91.2,677.2 L91.2,677.2 L92.5,678.6 L93.7,680.1 L94.8,681.7 L95.7,683.3 L96.6,685.0Z" fill="#F6B902" opacity="0.75"/>
<path d="M47.4,301.8 L47.7,299.9 L48.2,298.0 L48.8,296.2 L49.6,294.4 L50.6,292.7 L50.6,292.7 L50.3,294.7 L49.8,296.5 L49.2,298.4 L48.4,300.1 L47.4,301.8Z" fill="#FEFCF5" opacity="0.82"/>
<path d="M624.1,829.1 L622.5,830.3 L620.9,831.3 L619.2,832.2 L617.5,833.1 L615.7,833.7 L613.8,834.3 L611.9,834.7 L611.9,834.7 L613.5,833.4 L615.1,832.4 L616.8,831.4 L618.5,830.6 L620.3,830.0 L622.2,829.4 L624.1,829.1Z" fill="#F6B902" opacity="0.85"/>
<path d="M31.5,345.7 L31.5,343.6 L31.8,341.4 L32.2,339.4 L32.9,337.3 L33.7,335.4 L33.7,335.4 L33.6,337.5 L33.3,339.6 L32.9,341.7 L32.2,343.7 L31.5,345.7Z" fill="#FBDC82" opacity="0.76"/>
<path d="M286.5,50.7 L288.1,49.5 L289.8,48.6 L291.6,48.0 L293.5,47.7 L295.5,47.7 L295.5,47.7 L294.0,48.9 L292.3,49.8 L290.5,50.4 L288.6,50.7 L286.5,50.7Z" fill="#FBDC82" opacity="0.95"/>
<path d="M38.6,565.1 L37.2,563.3 L36.4,561.3 L36.0,559.2 L36.1,556.9 L36.1,556.9 L37.4,558.8 L38.2,560.8 L38.6,562.8 L38.6,565.1Z" fill="#FBDC82" opacity="0.91"/>
<path d="M414.9,872.1 L413.2,872.6 L411.5,872.7 L409.8,872.4 L408.2,871.7 L408.2,871.7 L409.9,871.2 L411.6,871.1 L413.2,871.4 L414.9,872.1Z" fill="#FEFCF5" opacity="0.94"/>
<path d="M341.2,855.6 L339.0,855.5 L337.0,855.2 L334.9,854.7 L333.0,854.0 L331.1,853.1 L331.1,853.1 L333.2,853.3 L335.2,853.6 L337.3,854.1 L339.2,854.8 L341.2,855.6Z" fill="#F6B902" opacity="1.00"/>
<path d="M863.9,541.6 L863.8,543.7 L863.5,545.8 L863.0,547.9 L862.3,549.9 L861.4,551.8 L861.4,551.8 L861.5,549.6 L861.8,547.5 L862.3,545.5 L863.0,543.5 L863.9,541.6Z" fill="#F6B902" opacity="0.98"/>
<path d="M56.1,620.4 L55.0,618.7 L54.0,616.8 L53.2,614.9 L52.6,612.9 L52.1,610.8 L52.1,610.8 L53.3,612.6 L54.2,614.4 L55.1,616.4 L55.7,618.3 L56.1,620.4Z" fill="#FEFCF5" opacity="0.83"/>
<path d="M539.0,856.9 L537.4,858.0 L535.7,858.6 L533.9,858.7 L532.0,858.4 L532.0,858.4 L533.6,857.4 L535.3,856.8 L537.1,856.6 L539.0,856.9Z" fill="#F6B902" opacity="0.85"/>
<path d="M202.2,791.1 L201.0,790.6 L199.9,790.0 L198.9,789.1 L198.0,788.2 L198.0,788.2 L199.2,788.7 L200.3,789.3 L201.3,790.1 L202.2,791.1Z" fill="#F6B902" opacity="0.86"/>
<path d="M131.6,735.9 L129.8,734.7 L128.2,733.3 L126.8,731.7 L125.6,729.9 L124.5,728.0 L124.5,728.0 L126.3,729.3 L127.9,730.7 L129.3,732.3 L130.5,734.0 L131.6,735.9Z" fill="#F6B902" opacity="0.76"/>
<path d="M612.3,827.3 L610.8,828.5 L609.1,829.4 L607.3,830.0 L605.4,830.3 L605.4,830.3 L607.0,829.2 L608.6,828.3 L610.4,827.7 L612.3,827.3Z" fill="#F6B902" opacity="0.99"/>
<path d="M34.7,317.4 L34.8,315.5 L35.2,313.6 L35.8,311.9 L36.7,310.2 L36.7,310.2 L36.6,312.1 L36.2,313.9 L35.6,315.7 L34.7,317.4Z" fill="#FBDC82" opacity="0.80"/>
<path d="M229.3,809.3 L227.8,809.1 L226.6,808.6 L225.5,807.8 L224.6,806.6 L224.6,806.6 L226.1,806.8 L227.4,807.3 L228.4,808.1 L229.3,809.3Z" fill="#F6B902" opacity="0.88"/>
<path d="M856.5,552.7 L856.6,554.8 L856.4,556.9 L855.8,558.8 L854.8,560.6 L854.8,560.6 L854.7,558.5 L855.0,556.5 L855.6,554.6 L856.5,552.7Z" fill="#FEFCF5" opacity="0.96"/>
<path d="M686.2,796.2 L684.8,797.5 L683.3,798.6 L681.7,799.7 L680.1,800.7 L678.5,801.6 L676.8,802.4 L675.0,803.2 L673.2,803.8 L673.2,803.8 L674.6,802.6 L676.1,801.5 L677.7,800.4 L679.3,799.4 L681.0,798.5 L682.7,797.7 L684.4,796.9 L686.2,796.2Z" fill="#F6B902" opacity="0.93"/>
<path d="M20.4,458.6 L20.0,456.6 L19.9,454.7 L19.9,452.7 L20.2,450.7 L20.2,450.7 L20.6,452.7 L20.7,454.6 L20.7,456.6 L20.4,458.6Z" fill="#FEFCF5" opacity="0.91"/>
<path d="M404.2,22.7 L406.2,22.1 L408.1,21.7 L410.1,21.4 L412.1,21.2 L414.1,21.1 L416.1,21.2 L418.2,21.3 L418.2,21.3 L416.2,21.9 L414.2,22.2 L412.2,22.5 L410.2,22.7 L408.2,22.8 L406.2,22.8 L404.2,22.7Z" fill="#FEFCF5" opacity="0.89"/>
<path d="M611.6,48.6 L612.9,48.4 L614.1,48.6 L615.1,49.2 L615.9,50.3 L615.9,50.3 L614.6,50.4 L613.4,50.2 L612.4,49.6 L611.6,48.6Z" fill="#FBDC82" opacity="0.77"/>
<path d="M44.7,569.8 L43.8,568.8 L43.2,567.7 L43.0,566.4 L43.1,565.1 L43.1,565.1 L44.0,566.1 L44.6,567.3 L44.8,568.5 L44.7,569.8Z" fill="#FBDC82" opacity="0.87"/>
<path d="M442.4,17.6 L444.4,17.0 L446.5,16.7 L448.6,16.7 L450.7,16.9 L452.8,17.4 L452.8,17.4 L450.7,18.0 L448.6,18.2 L446.5,18.2 L444.5,18.0 L442.4,17.6Z" fill="#FBDC82" opacity="0.94"/>
<path d="M24.2,513.1 L23.6,511.1 L23.2,509.1 L22.8,507.1 L22.5,505.1 L22.3,503.1 L22.2,501.1 L22.2,499.0 L22.2,499.0 L22.7,501.0 L23.1,503.0 L23.5,505.0 L23.8,507.0 L24.0,509.0 L24.1,511.0 L24.2,513.1Z" fill="#FBDC82" opacity="0.81"/>
<path d="M194.8,96.2 L196.3,94.8 L197.8,93.5 L199.4,92.4 L201.1,91.3 L202.9,90.4 L202.9,90.4 L201.4,91.7 L199.9,93.0 L198.3,94.2 L196.6,95.2 L194.8,96.2Z" fill="#FBDC82" opacity="0.94"/>
<path d="M132.6,158.8 L133.8,157.2 L135.1,155.6 L136.4,154.1 L137.8,152.7 L139.3,151.4 L140.9,150.1 L140.9,150.1 L139.7,151.7 L138.4,153.3 L137.1,154.7 L135.7,156.2 L134.2,157.5 L132.6,158.8Z" fill="#F6B902" opacity="0.91"/>
<path d="M298.3,46.5 L300.0,45.6 L301.8,44.8 L303.7,44.2 L305.6,43.7 L307.6,43.3 L309.6,43.1 L309.6,43.1 L307.8,44.0 L306.0,44.8 L304.2,45.4 L302.3,46.0 L300.3,46.3 L298.3,46.5Z" fill="#FBD9A0" opacity="0.82"/>
<path d="M245.7,65.6 L247.4,64.4 L249.2,63.2 L251.1,62.2 L253.0,61.3 L255.0,60.5 L257.0,59.8 L257.0,59.8 L255.2,61.0 L253.4,62.1 L251.6,63.1 L249.7,64.1 L247.7,64.9 L245.7,65.6Z" fill="#FEFCF5" opacity="0.82"/>
<path d="M27.0,534.4 L26.2,532.6 L25.6,530.7 L25.2,528.8 L24.8,526.8 L24.5,524.9 L24.4,522.9 L24.4,520.9 L24.4,520.9 L25.1,522.8 L25.7,524.7 L26.2,526.6 L26.5,528.5 L26.8,530.4 L27.0,532.4 L27.0,534.4Z" fill="#FBDC82" opacity="0.99"/>
<path d="M841.0,276.2 L842.4,277.8 L843.4,279.5 L844.2,281.3 L844.7,283.3 L844.8,285.4 L844.8,285.4 L843.5,283.8 L842.4,282.0 L841.7,280.2 L841.2,278.3 L841.0,276.2Z" fill="#FBD9A0" opacity="1.00"/>
<path d="M121.1,723.6 L119.7,722.3 L118.4,720.9 L117.1,719.4 L115.8,718.0 L114.6,716.5 L113.4,714.9 L112.3,713.3 L111.2,711.7 L111.2,711.7 L112.6,713.1 L113.9,714.5 L115.2,716.0 L116.4,717.4 L117.7,718.9 L118.9,720.5 L120.0,722.0 L121.1,723.6Z" fill="#F6B902" opacity="0.79"/>
<path d="M28.2,379.2 L28.1,377.2 L28.1,375.2 L28.2,373.2 L28.5,371.3 L28.8,369.3 L29.3,367.4 L29.8,365.5 L30.6,363.7 L30.6,363.7 L30.6,365.7 L30.6,367.6 L30.4,369.6 L30.2,371.6 L29.8,373.5 L29.4,375.4 L28.9,377.3 L28.2,379.2Z" fill="#FEFCF5" opacity="0.82"/>
<path d="M21.7,448.6 L21.5,446.8 L21.4,444.9 L21.3,443.1 L21.3,441.2 L21.3,439.4 L21.4,437.5 L21.6,435.6 L21.9,433.8 L21.9,433.8 L22.0,435.6 L22.1,437.5 L22.2,439.4 L22.2,441.2 L22.1,443.1 L22.1,444.9 L21.9,446.8 L21.7,448.6Z" fill="#FBD9A0" opacity="0.92"/>
<path d="M93.7,681.7 L92.4,680.3 L91.2,678.9 L90.1,677.4 L89.0,675.8 L88.1,674.2 L87.2,672.5 L86.5,670.8 L86.5,670.8 L87.7,672.2 L88.9,673.7 L90.0,675.2 L91.1,676.7 L92.0,678.4 L92.9,680.0 L93.7,681.7Z" fill="#F6B902" opacity="0.96"/>
<path d="M349.6,31.5 L351.4,30.8 L353.2,30.2 L355.0,29.7 L356.9,29.2 L358.7,28.9 L360.6,28.6 L362.5,28.3 L364.3,28.2 L364.3,28.2 L362.6,28.9 L360.8,29.4 L358.9,30.0 L357.1,30.4 L355.3,30.8 L353.4,31.1 L351.5,31.3 L349.6,31.5Z" fill="#FBD9A0" opacity="0.85"/>
<path d="M462.1,19.1 L464.2,19.0 L466.2,18.9 L468.3,18.9 L470.4,19.0 L472.5,19.2 L474.6,19.4 L476.6,19.7 L476.6,19.7 L474.5,19.8 L472.4,19.8 L470.4,19.8 L468.3,19.7 L466.2,19.5 L464.1,19.4 L462.1,19.1Z" fill="#FBDC82" opacity="0.91"/>
<path d="M698.9,784.8 L697.4,786.2 L695.9,787.4 L694.3,788.6 L692.7,789.8 L691.0,790.9 L689.2,791.9 L687.5,792.8 L685.7,793.7 L685.7,793.7 L687.2,792.4 L688.8,791.2 L690.4,790.0 L692.0,788.9 L693.7,787.8 L695.4,786.8 L697.1,785.8 L698.9,784.8Z" fill="#F6B902" opacity="0.95"/>
<path d="M61.6,631.1 L60.6,630.2 L60.0,629.1 L59.6,628.0 L59.6,626.7 L59.6,626.7 L60.5,627.6 L61.1,628.6 L61.5,629.8 L61.6,631.1Z" fill="#FEFCF5" opacity="0.89"/>
<path d="M366.1,24.8 L367.2,24.0 L368.4,23.6 L369.7,23.5 L371.0,23.8 L371.0,23.8 L369.9,24.5 L368.6,24.9 L367.4,25.0 L366.1,24.8Z" fill="#FBDC82" opacity="0.91"/>
<path d="M349.5,864.3 L348.1,864.3 L346.9,864.2 L345.6,863.8 L344.5,863.2 L344.5,863.2 L345.8,863.2 L347.1,863.3 L348.3,863.7 L349.5,864.3Z" fill="#FBD9A0" opacity="0.85"/>
<path d="M361.7,864.8 L359.7,865.1 L357.8,864.9 L356.0,864.4 L354.3,863.5 L354.3,863.5 L356.2,863.3 L358.1,863.4 L360.0,863.9 L361.7,864.8Z" fill="#FBD9A0" opacity="0.91"/>
<path d="M312.4,849.8 L310.2,849.4 L308.0,848.9 L305.9,848.2 L303.9,847.3 L301.8,846.3 L301.8,846.3 L304.1,846.8 L306.2,847.4 L308.3,848.1 L310.4,848.9 L312.4,849.8Z" fill="#F6B902" opacity="0.77"/>
<path d="M20.6,441.4 L20.3,439.4 L20.2,437.3 L20.1,435.3 L20.2,433.3 L20.3,431.3 L20.6,429.3 L21.0,427.3 L21.0,427.3 L21.3,429.3 L21.4,431.3 L21.4,433.3 L21.4,435.3 L21.2,437.3 L21.0,439.4 L20.6,441.4Z" fill="#FBDC82" opacity="1.00"/>
<path d="M44.6,573.9 L43.8,572.5 L43.2,571.1 L42.8,569.6 L42.6,568.1 L42.6,568.1 L43.4,569.5 L44.0,570.9 L44.4,572.3 L44.6,573.9Z" fill="#FBDC82" opacity="0.89"/>
<path d="M264.9,834.6 L262.7,833.9 L260.7,833.0 L258.7,831.9 L256.9,830.5 L256.9,830.5 L259.0,831.2 L261.1,832.1 L263.0,833.3 L264.9,834.6Z" fill="#F6B902" opacity="0.94"/>
<path d="M82.2,665.7 L80.9,664.3 L79.8,662.7 L78.8,661.1 L78.0,659.4 L77.4,657.6 L77.4,657.6 L78.7,659.0 L79.8,660.5 L80.7,662.1 L81.6,663.9 L82.2,665.7Z" fill="#F6B902" opacity="0.94"/>
<path d="M22.0,448.0 L21.5,446.1 L21.2,444.2 L21.2,442.3 L21.3,440.4 L21.5,438.6 L22.0,436.7 L22.0,436.7 L22.4,438.6 L22.7,440.4 L22.7,442.3 L22.7,444.2 L22.4,446.1 L22.0,448.0Z" fill="#FEFCF5" opacity="0.91"/>
<path d="M537.1,857.8 L535.3,858.6 L533.5,859.1 L531.5,859.4 L529.6,859.3 L529.6,859.3 L531.4,858.5 L533.2,858.0 L535.1,857.7 L537.1,857.8Z" fill="#FBD9A0" opacity="0.86"/>
<path d="M282.2,844.4 L280.2,843.8 L278.3,843.1 L276.4,842.3 L274.5,841.4 L272.6,840.5 L270.8,839.5 L269.1,838.4 L269.1,838.4 L271.0,839.1 L272.9,839.8 L274.8,840.6 L276.7,841.5 L278.5,842.4 L280.4,843.4 L282.2,844.4Z" fill="#FBD9A0" opacity="0.93"/>
<path d="M30.3,513.7 L29.6,511.9 L29.1,510.0 L28.7,508.2 L28.5,506.3 L28.4,504.4 L28.5,502.4 L28.5,502.4 L29.1,504.3 L29.6,506.1 L29.9,508.0 L30.2,509.8 L30.3,511.7 L30.3,513.7Z" fill="#FEFCF5" opacity="0.96"/>
<path d="M22.5,382.9 L22.3,380.8 L22.3,378.7 L22.5,376.5 L22.9,374.5 L23.5,372.4 L24.2,370.4 L24.2,370.4 L24.4,372.6 L24.3,374.7 L24.1,376.8 L23.7,378.9 L23.2,380.9 L22.5,382.9Z" fill="#FBD9A0" opacity="0.77"/>
<path d="M518.1,25.7 L519.3,25.4 L520.4,25.4 L521.5,25.8 L522.5,26.5 L522.5,26.5 L521.3,26.9 L520.2,26.8 L519.1,26.5 L518.1,25.7Z" fill="#FBDC82" opacity="0.91"/>
<path d="M305.3,846.1 L303.7,846.2 L302.2,845.9 L300.9,845.2 L299.7,844.1 L299.7,844.1 L301.3,844.1 L302.8,844.4 L304.1,845.1 L305.3,846.1Z" fill="#F6B902" opacity="0.77"/>
<path d="M314.3,848.5 L312.3,848.1 L310.4,847.6 L308.5,847.1 L306.6,846.5 L304.8,845.9 L302.9,845.1 L301.1,844.4 L299.4,843.4 L299.4,843.4 L301.3,843.9 L303.2,844.4 L305.1,844.9 L307.0,845.5 L308.8,846.2 L310.7,846.9 L312.5,847.6 L314.3,848.5Z" fill="#FEFCF5" opacity="0.75"/>
<path d="M33.4,343.8 L33.6,341.7 L33.9,339.7 L34.2,337.7 L34.7,335.7 L35.2,333.7 L35.8,331.8 L36.4,329.8 L37.2,327.9 L37.2,327.9 L36.9,330.0 L36.6,332.0 L36.2,334.0 L35.7,336.0 L35.2,337.9 L34.7,339.9 L34.1,341.8 L33.4,343.8Z" fill="#FBDC82" opacity="0.87"/>
<path d="M488.1,871.1 L486.3,871.9 L484.4,872.2 L482.6,872.2 L480.7,871.7 L480.7,871.7 L482.5,871.0 L484.3,870.6 L486.2,870.7 L488.1,871.1Z" fill="#F6B902" opacity="0.76"/>
<path d="M593.0,841.7 L591.4,842.6 L589.7,843.5 L588.0,844.3 L586.3,845.1 L584.6,845.9 L582.9,846.5 L581.1,847.2 L579.3,847.7 L579.3,847.7 L581.0,846.8 L582.7,846.0 L584.4,845.2 L586.1,844.4 L587.8,843.6 L589.5,842.9 L591.3,842.3 L593.0,841.7Z" fill="#F6B902" opacity="0.92"/>
<path d="M74.2,646.3 L72.8,644.7 L71.5,642.9 L70.5,641.1 L69.7,639.2 L69.0,637.2 L68.6,635.0 L68.6,635.0 L69.9,636.7 L71.1,638.5 L72.1,640.3 L72.9,642.2 L73.6,644.2 L74.2,646.3Z" fill="#FEFCF5" opacity="0.77"/>
<path d="M19.3,454.6 L18.9,452.9 L18.7,451.1 L18.8,449.4 L19.2,447.7 L19.2,447.7 L19.5,449.4 L19.7,451.1 L19.6,452.8 L19.3,454.6Z" fill="#FBD9A0" opacity="0.81"/>
<path d="M475.2,15.6 L477.2,15.2 L479.2,15.2 L481.2,15.5 L483.1,16.2 L483.1,16.2 L481.1,16.6 L479.1,16.6 L477.1,16.2 L475.2,15.6Z" fill="#FBDC82" opacity="0.97"/>
<path d="M25.8,482.7 L25.3,480.8 L24.9,478.9 L24.6,477.1 L24.4,475.2 L24.3,473.3 L24.3,471.4 L24.4,469.4 L24.7,467.5 L24.7,467.5 L25.1,469.4 L25.4,471.3 L25.7,473.2 L25.9,475.1 L26.0,476.9 L26.0,478.8 L25.9,480.8 L25.8,482.7Z" fill="#FBD9A0" opacity="0.76"/>
<path d="M81.0,658.3 L79.6,656.6 L78.3,654.9 L77.2,653.0 L76.2,651.1 L75.4,649.1 L74.7,647.0 L74.7,647.0 L76.0,648.7 L77.2,650.5 L78.3,652.4 L79.3,654.3 L80.2,656.2 L81.0,658.3Z" fill="#F6B902" opacity="0.93"/>
<path d="M240.5,822.9 L238.7,822.6 L237.1,822.0 L235.8,820.9 L234.6,819.5 L234.6,819.5 L236.4,819.8 L238.0,820.5 L239.3,821.5 L240.5,822.9Z" fill="#F6B902" opacity="0.83"/>
<path d="M381.1,20.2 L383.1,19.6 L385.1,19.1 L387.1,18.6 L389.2,18.3 L391.2,18.1 L393.3,18.1 L395.4,18.1 L395.4,18.1 L393.4,18.7 L391.4,19.2 L389.3,19.6 L387.3,19.9 L385.2,20.1 L383.2,20.2 L381.1,20.2Z" fill="#FBDC82" opacity="0.75"/>
<path d="M366.5,867.6 L364.3,867.6 L362.1,867.3 L360.0,866.8 L357.9,866.2 L357.9,866.2 L360.1,866.2 L362.3,866.5 L364.4,866.9 L366.5,867.6Z" fill="#F6B902" opacity="0.85"/>
<path d="M497.2,18.7 L499.2,18.7 L501.3,18.9 L503.3,19.3 L505.2,19.9 L505.2,19.9 L503.2,19.9 L501.2,19.7 L499.2,19.3 L497.2,18.7Z" fill="#FBD9A0" opacity="0.80"/>
<path d="M35.5,333.1 L35.5,331.1 L35.7,329.1 L36.2,327.2 L37.0,325.4 L38.0,323.7 L38.0,323.7 L38.0,325.7 L37.8,327.7 L37.3,329.6 L36.5,331.4 L35.5,333.1Z" fill="#FBD9A0" opacity="0.76"/>
<path d="M83.4,671.2 L82.1,669.6 L80.9,667.9 L79.8,666.2 L78.8,664.5 L77.8,662.7 L76.8,660.9 L76.0,659.0 L76.0,659.0 L77.2,660.7 L78.3,662.4 L79.4,664.1 L80.5,665.8 L81.5,667.6 L82.4,669.4 L83.4,671.2Z" fill="#F6B902" opacity="0.87"/>
<path d="M586.4,42.6 L587.8,42.8 L589.0,43.1 L590.2,43.6 L591.3,44.3 L591.3,44.3 L590.0,44.2 L588.8,43.8 L587.6,43.3 L586.4,42.6Z" fill="#FEFCF5" opacity="0.83"/>
<path d="M387.1,867.2 L385.1,867.2 L383.1,867.1 L381.1,867.0 L379.1,866.8 L377.1,866.5 L375.2,866.1 L373.2,865.7 L371.3,865.2 L371.3,865.2 L373.3,865.3 L375.3,865.4 L377.3,865.5 L379.3,865.8 L381.3,866.0 L383.2,866.3 L385.2,866.7 L387.1,867.2Z" fill="#F6B902" opacity="0.98"/>
<path d="M320.8,854.2 L318.8,854.1 L316.9,853.9 L315.1,853.5 L313.3,852.9 L311.5,852.2 L309.8,851.4 L308.1,850.4 L308.1,850.4 L310.1,850.6 L312.0,850.9 L313.8,851.3 L315.6,851.8 L317.4,852.5 L319.1,853.3 L320.8,854.2Z" fill="#F6B902" opacity="0.76"/>
<path d="M490.5,870.8 L488.5,871.7 L486.5,872.1 L484.5,872.3 L482.4,872.2 L480.3,871.7 L480.3,871.7 L482.3,870.9 L484.3,870.5 L486.4,870.3 L488.4,870.4 L490.5,870.8Z" fill="#FBD9A0" opacity="0.95"/>
<path d="M730.9,755.8 L729.8,757.7 L728.4,759.2 L726.9,760.6 L725.1,761.7 L723.1,762.6 L723.1,762.6 L724.3,760.8 L725.7,759.2 L727.2,757.9 L729.0,756.7 L730.9,755.8Z" fill="#F6B902" opacity="0.96"/>
<path d="M509.2,22.9 L516.7,24.2 L524.3,25.7 L531.8,27.2 L539.3,28.9 L546.7,30.7 L554.2,32.5 L561.6,34.6" fill="none" stroke="#FBDC82" stroke-width="0.72" stroke-linecap="round" opacity="0.9346745861971013"/>
<path d="M85.0,212.3 L90.2,205.9 L95.3,199.5 L100.5,193.2 L105.7,186.9" fill="none" stroke="#F6B902" stroke-width="0.54" stroke-linecap="round" opacity="0.7101591158249003"/>
<path d="M354.5,26.0 L362.2,24.0 L369.8,22.2 L377.6,20.5 L385.3,19.0 L393.1,17.6" fill="none" stroke="#FBDC82" stroke-width="1.09" stroke-linecap="round" opacity="0.7794673948539829"/>
<path d="M88.1,210.0 L93.5,202.6 L99.0,195.3 L104.4,188.0" fill="none" stroke="#F6B902" stroke-width="0.77" stroke-linecap="round" opacity="0.7702588896444391"/>
<path d="M263.6,56.7 L270.7,53.5 L278.0,50.5 L285.2,47.7 L292.6,44.9 L299.9,42.3 L307.3,39.8 L314.7,37.3" fill="none" stroke="#FBDC82" stroke-width="1.01" stroke-linecap="round" opacity="0.8993275666823237"/>
<path d="M104.9,189.8 L110.0,183.3 L115.2,176.9 L120.4,170.5 L125.8,164.2 L131.2,158.0 L136.9,152.0 L142.7,146.2 L148.6,140.5" fill="none" stroke="#F6B902" stroke-width="0.72" stroke-linecap="round" opacity="0.9214202283181288"/>
<path d="M141.0,148.3 L147.5,142.4 L154.1,136.6 L160.8,130.9 L167.4,125.2" fill="none" stroke="#F6B902" stroke-width="1.03" stroke-linecap="round" opacity="0.8734842267369854"/>
<path d="M206.9,87.1 L214.2,82.3 L221.5,77.8 L229.0,73.5 L236.6,69.3 L244.2,65.2" fill="none" stroke="#FBDC82" stroke-width="0.64" stroke-linecap="round" opacity="0.9425328674179518"/>
<path d="M425.3,20.6 L433.5,20.1 L441.6,19.9 L449.8,19.7 L458.0,19.7 L466.1,19.9 L474.3,20.2 L482.4,20.7 L490.5,21.5 L498.7,22.5" fill="none" stroke="#FBDC82" stroke-width="0.99" stroke-linecap="round" opacity="0.95216690923638"/>
<path d="M605.3,48.5 L612.7,51.8 L620.1,55.2 L627.4,58.7" fill="none" stroke="#FBDC82" stroke-width="0.61" stroke-linecap="round" opacity="0.9918895538775437"/>
<path d="M376.3,25.0 L384.0,23.5 L391.7,22.1 L399.5,20.9 L407.2,19.9 L415.0,19.0 L422.8,18.2 L430.7,17.7 L438.5,17.2 L446.4,16.9" fill="none" stroke="#FBDC82" stroke-width="0.77" stroke-linecap="round" opacity="0.7779844666458626"/>
<path d="M512.5,24.4 L520.3,25.8 L528.0,27.2 L535.8,28.7 L543.5,30.4 L551.2,32.1 L558.9,34.1 L566.5,36.1 L574.1,38.3 L581.7,40.7" fill="none" stroke="#FBDC82" stroke-width="0.87" stroke-linecap="round" opacity="0.7652936265709724"/>
<path d="M234.2,74.0 L242.9,69.3 L251.7,64.8 L260.6,60.5" fill="none" stroke="#FBDC82" stroke-width="0.86" stroke-linecap="round" opacity="0.8954928463264298"/>
<path d="M142.9,146.0 L148.3,140.6 L153.8,135.3 L159.3,130.1" fill="none" stroke="#F6B902" stroke-width="0.61" stroke-linecap="round" opacity="0.7936587201310725"/>
<path d="M142.2,145.3 L148.1,140.0 L154.1,134.7 L160.1,129.5 L166.1,124.3 L172.0,119.0 L177.9,113.7 L183.9,108.4 L190.1,103.4" fill="none" stroke="#F6B902" stroke-width="0.56" stroke-linecap="round" opacity="0.8185890138090247"/>
<path d="M353.9,31.3 L361.7,29.8 L369.4,28.3 L377.1,27.0 L384.9,25.8 L392.7,24.8 L400.5,24.0 L408.3,23.3" fill="none" stroke="#FBDC82" stroke-width="0.92" stroke-linecap="round" opacity="0.8229366764163346"/>
<path d="M182.8,105.9 L188.7,101.0 L194.8,96.2 L201.1,91.7 L207.5,87.4 L214.0,83.3" fill="none" stroke="#F6B902" stroke-width="0.84" stroke-linecap="round" opacity="0.8071545148210526"/>
<path d="M262.8,55.8 L269.7,52.8 L276.7,50.0 L283.7,47.3 L290.8,44.7 L297.9,42.3 L305.0,40.0 L312.2,37.7 L319.4,35.6 L326.6,33.6" fill="none" stroke="#FBDC82" stroke-width="0.62" stroke-linecap="round" opacity="0.9184095093719067"/>
<path d="M141.3,144.1 L146.8,139.0 L152.5,134.0 L158.2,129.0" fill="none" stroke="#F6B902" stroke-width="0.99" stroke-linecap="round" opacity="0.8218653051058851"/>
<path d="M584.2,41.6 L591.4,44.4 L598.5,47.3 L605.5,50.3 L612.6,53.3 L619.6,56.4 L626.6,59.5" fill="none" stroke="#FBDC82" stroke-width="0.83" stroke-linecap="round" opacity="0.8922000076021289"/>
<path d="M602.9,45.8 L611.3,49.1 L619.6,52.5 L627.9,56.0" fill="none" stroke="#FBDC82" stroke-width="0.80" stroke-linecap="round" opacity="0.7437660478382071"/>
<path d="M182.9,106.0 L189.3,100.8 L195.9,95.7 L202.7,91.0 L209.6,86.5 L216.7,82.1 L223.8,78.0" fill="none" stroke="#F6B902" stroke-width="0.79" stroke-linecap="round" opacity="0.9414440843287366"/>
<path d="M639.3,63.2 L646.8,66.4 L654.0,70.2 L661.1,74.2 L667.9,78.7" fill="none" stroke="#FBDC82" stroke-width="1.09" stroke-linecap="round" opacity="0.844820945667906"/>
<path d="M76.2,228.3 L80.3,221.6 L84.6,215.0 L89.2,208.6 L93.9,202.3 L98.7,196.0 L103.4,189.8 L108.1,183.5 L112.9,177.3 L117.8,171.1" fill="none" stroke="#F6B902" stroke-width="0.87" stroke-linecap="round" opacity="0.947366726155141"/>
<path d="M122.6,168.6 L127.8,162.7 L133.1,156.8 L138.5,151.2 L144.1,145.6 L149.9,140.2 L155.7,134.9 L161.5,129.7 L167.3,124.4" fill="none" stroke="#F6B902" stroke-width="1.01" stroke-linecap="round" opacity="0.9487563106558216"/>
<path d="M132.6,156.1 L138.4,150.0 L144.4,144.1 L150.5,138.3 L156.7,132.7" fill="none" stroke="#F6B902" stroke-width="0.73" stroke-linecap="round" opacity="0.7369170110288272"/>
<path d="M565.9,28.5 L569.5,29.6 L573.0,30.8 L576.6,32.0 L580.1,33.3 L583.7,34.6 L587.2,35.9 L590.7,37.3 L594.2,38.7 L597.6,40.1 L601.1,41.5 L604.6,43.0 L608.0,44.5 L611.5,45.9 L615.0,47.3 L618.4,48.7 L621.9,50.2 L625.4,51.6 L628.8,53.0 L632.3,54.5 L635.8,56.0 L639.2,57.5 L642.6,59.0 L646.0,60.6 L649.5,62.2 L652.8,64.0 L656.1,65.8 L659.4,67.6 L662.7,69.4 L665.9,71.3 L669.2,73.3 L672.4,75.3" fill="none" stroke="#EC2C0E" stroke-width="1.3" stroke-linecap="round" stroke-dasharray="22 3 9 4 14 2"/>
<path d="M579.3,35.8 L582.8,37.1 L586.3,38.4 L589.8,39.8 L593.2,41.2 L596.7,42.6 L600.2,44.0 L603.6,45.5 L607.0,46.9 L610.5,48.3 L613.9,49.7 L617.4,51.2 L620.8,52.6 L624.3,54.0 L627.7,55.4 L631.2,56.9 L634.6,58.3 L638.0,59.8 L641.4,61.4 L644.8,63.0 L648.2,64.6 L651.5,66.3 L654.8,68.1 L658.1,69.8 L661.4,71.7 L664.6,73.6 L667.8,75.5 L671.0,77.5 L674.2,79.5 L677.3,81.5 L680.4,83.5 L683.5,85.6 L686.6,87.7" fill="none" stroke="#EC2C0E" stroke-width="1.0" stroke-linecap="round" stroke-dasharray="12 3 25 4 8 3"/>
<path d="M613.1,51.8 L616.5,53.2 L619.9,54.6 L623.4,56.0 L626.8,57.4 L630.3,58.8 L633.7,60.2 L637.1,61.7 L640.5,63.2 L643.9,64.8 L647.3,66.3 L650.6,68.0 L653.9,69.8 L657.2,71.5 L660.4,73.3 L663.6,75.2 L666.8,77.1 L670.0,79.1 L673.2,81.0 L676.3,83.0 L679.5,85.0 L682.6,87.1 L685.7,89.2 L688.7,91.4 L691.7,93.6 L694.6,95.8 L697.6,98.1 L700.5,100.4 L703.4,102.7 L706.3,105.1 L709.1,107.5 L712.0,109.9 L714.8,112.3" fill="none" stroke="#EC2C0E" stroke-width="1.1" stroke-linecap="round" stroke-dasharray="30 4 18 3 10 5"/>
<path d="M666.4,70.6 L669.9,73.0 L673.5,75.5 L677.0,78.1 L680.5,80.6" fill="none" stroke="#EC2C0E" stroke-width="2.2" stroke-linecap="round"/>
<path d="M719.4,118.4 L722.2,120.8 L724.9,123.3 L727.7,125.8 L730.4,128.3 L733.1,130.8 L735.8,133.4 L738.4,135.9 L741.0,138.5 L743.7,141.1 L746.3,143.7 L748.9,146.3 L751.5,149.0 L754.1,151.6" fill="none" stroke="#EC2C0E" stroke-width="0.9" stroke-linecap="round" stroke-dasharray="9 5 14 6 5 4"/>
<path d="M749,155 L757.5,165.3 M760.2,169.3 L767.8,177.3" fill="none" stroke="#EC2C0E" stroke-width="0.9" stroke-linecap="round"/>
<path d="M454.7,861.4 L448.3,860.9 L441.9,860.5 L435.5,860.1 L429.1,859.6 L422.7,859.0" fill="none" stroke="#EC2C0E" stroke-width="0.78" stroke-linecap="round"/>
<path d="M466.7,23.4 L464.2,23.9 L461.8,24.1 L459.4,24.4 L457.0,24.6 L454.5,24.9" fill="none" stroke="#EC2C0E" stroke-width="0.80" stroke-linecap="round"/>
<path d="M47.2,313.0 L46.2,318.8 L45.0,324.6 L43.8,330.3 L42.6,336.1 L41.5,341.8" fill="none" stroke="#EC2C0E" stroke-width="0.65" stroke-linecap="round"/>
<path d="M448.9,861.3 L453.4,860.7 L457.8,860.2 L462.3,859.8 L466.7,859.3 L471.2,858.9" fill="none" stroke="#EC2C0E" stroke-width="0.72" stroke-linecap="round"/>
<path d="M28.0,470.7 L29.2,474.2 L30.1,477.7 L30.9,481.2 L31.7,484.7 L32.5,488.2" fill="none" stroke="#EC2C0E" stroke-width="0.91" stroke-linecap="round"/>
<path d="M107.3,688.7 L109.4,690.4 L111.3,692.1 L113.2,694.0 L115.1,695.8 L116.9,697.6" fill="none" stroke="#EC2C0E" stroke-width="0.55" stroke-linecap="round"/>
<path d="M56.8,591.9 L55.4,586.9 L53.8,582.0 L52.2,577.1 L50.7,572.2 L49.1,567.3" fill="none" stroke="#EC2C0E" stroke-width="0.57" stroke-linecap="round"/>
<path d="M369.6,31.9 L367.2,33.3 L364.7,34.4 L362.2,35.4 L359.7,36.4 L357.2,37.3" fill="none" stroke="#EC2C0E" stroke-width="0.89" stroke-linecap="round"/>
<path d="M859.5,510.6 L857.9,516.2 L856.7,521.8 L855.4,527.4 L854.3,533.1 L853.3,538.8" fill="none" stroke="#EC2C0E" stroke-width="0.99" stroke-linecap="round"/>
<path d="M27.7,464.4 L28.3,456.6 L28.7,448.8 L29.2,441.0 L29.7,433.3 L30.4,425.5" fill="none" stroke="#EC2C0E" stroke-width="0.86" stroke-linecap="round"/>
<path d="M522.6,855.1 L529.4,853.3 L536.3,851.5 L543.1,849.7 L549.9,847.7 L556.5,845.4" fill="none" stroke="#EC2C0E" stroke-width="0.95" stroke-linecap="round"/>
<path d="M381.5,857.0 L374.6,855.5 L367.8,854.2 L361.0,852.8 L354.2,851.2 L347.4,849.6" fill="none" stroke="#EC2C0E" stroke-width="0.98" stroke-linecap="round"/>
<path d="M30.3,495.4 L30.3,489.7 L30.0,484.0 L29.9,478.3 L29.8,472.7 L29.7,467.0" fill="none" stroke="#EC2C0E" stroke-width="0.52" stroke-linecap="round"/>
<path d="M618.8,820.9 L621.3,818.9 L623.9,817.2 L626.5,815.5 L629.2,813.9 L631.9,812.3" fill="none" stroke="#EC2C0E" stroke-width="0.95" stroke-linecap="round"/>
<path d="M650.6,806.5 L644.1,808.6 L637.7,811.0 L631.4,813.3 L625.0,815.5 L618.7,817.8" fill="none" stroke="#EC2C0E" stroke-width="0.52" stroke-linecap="round"/>
<path d="M30.7,386.5 L32.1,380.4 L33.3,374.3 L34.6,368.2 L35.9,362.1 L37.3,356.1" fill="none" stroke="#EC2C0E" stroke-width="0.77" stroke-linecap="round"/>
<path d="M415.2,25.2 L411.0,26.7 L406.7,27.8 L402.5,28.9 L398.2,30.0 L394.0,31.0" fill="none" stroke="#EC2C0E" stroke-width="0.79" stroke-linecap="round"/>
<path d="M178.6,766.4 L184.0,770.3 L189.4,774.3 L194.8,778.2 L200.3,782.0 L206.0,785.6" fill="none" stroke="#EC2C0E" stroke-width="0.81" stroke-linecap="round"/>
<path d="M849.8,334.1 L847.7,329.3 L845.8,324.5 L844.0,319.6 L842.1,314.8 L840.2,310.0" fill="none" stroke="#EC2C0E" stroke-width="0.99" stroke-linecap="round"/>
<path d="M83.8,225.5 L81.6,231.3 L79.4,237.1 L77.3,242.9 L75.2,248.7 L73.1,254.5" fill="none" stroke="#EC2C0E" stroke-width="0.87" stroke-linecap="round"/>
<path d="M521.3,855.3 L525.0,853.9 L528.7,852.8 L532.4,851.6 L536.2,850.5 L539.9,849.4" fill="none" stroke="#EC2C0E" stroke-width="0.68" stroke-linecap="round"/>
<path d="M126.6,169.3 L128.5,167.7 L130.3,166.0 L132.1,164.3 L133.9,162.6 L135.7,160.9" fill="none" stroke="#EC2C0E" stroke-width="0.68" stroke-linecap="round"/>
<path d="M514.5,856.5 L508.8,856.8 L503.3,857.3 L497.7,857.7 L492.1,858.1 L486.5,858.4" fill="none" stroke="#EC2C0E" stroke-width="0.81" stroke-linecap="round"/>
<path d="M32.4,508.9 L32.8,505.9 L32.8,502.8 L32.9,499.8 L32.9,496.8 L32.9,493.8" fill="none" stroke="#EC2C0E" stroke-width="0.73" stroke-linecap="round"/>
<path d="M835.4,607.2 L837.2,601.4 L839.2,595.5 L841.1,589.7 L842.9,583.9 L844.5,578.0" fill="none" stroke="#EC2C0E" stroke-width="0.63" stroke-linecap="round"/>
<path d="M58.6,282.6 L57.9,286.9 L56.8,291.0 L55.7,295.2 L54.6,299.3 L53.4,303.3" fill="none" stroke="#EC2C0E" stroke-width="0.76" stroke-linecap="round"/>
<path d="M27.6,461.9 L27.9,458.7 L28.1,455.5 L28.2,452.3 L28.4,449.2 L28.6,446.0" fill="none" stroke="#EC2C0E" stroke-width="0.77" stroke-linecap="round"/>
<path d="M98.5,676.7 L97.4,673.1 L95.9,669.8 L94.5,666.5 L93.0,663.2 L91.5,660.0" fill="none" stroke="#EC2C0E" stroke-width="0.55" stroke-linecap="round"/>
<path d="M126.8,169.1 L131.2,164.8 L135.5,160.5 L139.8,156.3 L144.2,152.1 L148.6,148.0" fill="none" stroke="#EC2C0E" stroke-width="0.60" stroke-linecap="round"/>
<path d="M119.0,178.3 L116.5,182.9 L113.6,187.2 L110.7,191.5 L107.9,195.8 L105.0,200.1" fill="none" stroke="#EC2C0E" stroke-width="0.59" stroke-linecap="round"/>
<path d="M293.6,834.9 L290.3,832.3 L287.0,830.1 L283.6,827.9 L280.3,825.8 L276.9,823.6" fill="none" stroke="#EC2C0E" stroke-width="0.86" stroke-linecap="round"/>
<path d="M31.1,501.1 L32.9,506.2 L34.4,511.4 L35.9,516.5 L37.4,521.6 L39.0,526.8" fill="none" stroke="#EC2C0E" stroke-width="0.87" stroke-linecap="round"/>
<path d="M37.5,533.8 L39.7,540.0 L41.8,546.2 L43.9,552.4 L46.2,558.5 L48.5,564.6" fill="none" stroke="#EC2C0E" stroke-width="1.00" stroke-linecap="round"/>
<path d="M417.0,860.0 L411.1,859.0 L405.2,858.2 L399.4,857.4 L393.5,856.6 L387.6,855.7" fill="none" stroke="#EC2C0E" stroke-width="0.87" stroke-linecap="round"/>
<path d="M305.0,47.6 L312.0,46.2 L319.1,44.7 L326.1,43.2 L333.1,41.8 L340.0,40.4" fill="none" stroke="#EC2C0E" stroke-width="0.78" stroke-linecap="round"/>
<path d="M62.4,606.4 L65.4,612.5 L68.3,618.7 L71.1,624.8 L74.1,630.9 L77.2,636.9" fill="none" stroke="#EC2C0E" stroke-width="0.96" stroke-linecap="round"/>
<ellipse cx="454.2" cy="438.95" rx="287.8" ry="279.05" fill="none" stroke="#C8C8C0" stroke-width="3.7"/>
<ellipse cx="454.6" cy="438.6" rx="50.9" ry="50.6" fill="none" stroke="#C8C8C0" stroke-width="3.8"/>
<line x1="545.7" y1="175.7" x2="455" y2="438.5" stroke="#1a1a1a" stroke-width="1.7" stroke-dasharray="1.7 5.15"/>
<line x1="622.2" y1="224.2" x2="455" y2="438.5" stroke="#1a1a1a" stroke-width="1.7" stroke-dasharray="1.7 5.15"/>
<line x1="686.8" y1="292.4" x2="455" y2="438.5" stroke="#1a1a1a" stroke-width="1.7" stroke-dasharray="1.7 5.15"/>
<line x1="726" y1="370.2" x2="455" y2="438.5" stroke="#1a1a1a" stroke-width="1.7" stroke-dasharray="1.7 5.15"/>
<line x1="718.8" y1="523.1" x2="455" y2="438.5" stroke="#1a1a1a" stroke-width="1.7" stroke-dasharray="1.7 5.15"/>
<line x1="681.8" y1="598.3" x2="455" y2="438.5" stroke="#1a1a1a" stroke-width="1.7" stroke-dasharray="1.7 5.15"/>
<line x1="633" y1="654.3" x2="455" y2="438.5" stroke="#1a1a1a" stroke-width="1.7" stroke-dasharray="1.7 5.15"/>
<line x1="546" y1="700" x2="455" y2="438.5" stroke="#1a1a1a" stroke-width="1.7" stroke-dasharray="1.7 5.15"/>
<line x1="180.4" y1="519.1" x2="455" y2="438.5" stroke="#1a1a1a" stroke-width="1.7" stroke-dasharray="1.7 5.15"/>
<line x1="225" y1="582.4" x2="455" y2="438.5" stroke="#1a1a1a" stroke-width="1.7" stroke-dasharray="1.7 5.15"/>
<line x1="286" y1="652.7" x2="455" y2="438.5" stroke="#1a1a1a" stroke-width="1.7" stroke-dasharray="1.7 5.15"/>
<line x1="364.4" y1="696.5" x2="455" y2="438.5" stroke="#1a1a1a" stroke-width="1.7" stroke-dasharray="1.7 5.15"/>
<line x1="361.1" y1="184.6" x2="455" y2="438.5" stroke="#1a1a1a" stroke-width="1.7" stroke-dasharray="1.7 5.15"/>
<line x1="272.8" y1="219.2" x2="455" y2="438.5" stroke="#1a1a1a" stroke-width="1.7" stroke-dasharray="1.7 5.15"/>
<line x1="216" y1="276.3" x2="455" y2="438.5" stroke="#1a1a1a" stroke-width="1.7" stroke-dasharray="1.7 5.15"/>
<line x1="181.4" y1="366" x2="455" y2="438.5" stroke="#1a1a1a" stroke-width="1.7" stroke-dasharray="1.7 5.15"/>
<line x1="155" y1="438.8" x2="745" y2="438.8" stroke="#000" stroke-width="1.6"/>
<line x1="155" y1="437.4" x2="455" y2="437.4" stroke="#000" stroke-width="3" stroke-dasharray="14.8 12.8" stroke-dashoffset="3.1"/>
<line x1="457" y1="437.4" x2="744.5" y2="437.4" stroke="#000" stroke-width="3" stroke-dasharray="14.8 12.77" stroke-dashoffset="3.84"/>
<line x1="454" y1="159.5" x2="454" y2="718" stroke="#000" stroke-width="2"/>
<line x1="456.5" y1="157.3" x2="456.5" y2="721.6" stroke="#000" stroke-width="3" stroke-dasharray="14.7 12.75"/>
<circle cx="495.6" cy="386.8" r="21.9" fill="#F6B902"/>
<circle cx="517.2" cy="403.2" r="15.9" fill="#139CF5"/>
<circle cx="481.4" cy="403.2" r="7.6" fill="#139CF5"/>
<circle cx="461.8" cy="413.5" r="7.6" fill="#139CF5"/>
<circle cx="442.5" cy="421.4" r="7.6" fill="#139CF5"/>
<circle cx="480.3" cy="435.2" r="17.1" fill="#F6B902"/>
<circle cx="428.1" cy="447.9" r="7.5" fill="#139CF5"/>
<circle cx="470.8" cy="447.7" r="7.4" fill="#139CF5"/>
<circle cx="489.9" cy="457.5" r="11.7" fill="#139CF5"/>
<circle cx="466.9" cy="464.5" r="7.5" fill="#139CF5"/>
<circle cx="635.5" cy="387.4" r="50.2" fill="#139CF5"/>
<text class="ct" x="635.7" y="373.5">Emoción</text><text class="ct" x="635.7" y="393.3">con mayor</text><text class="ct" x="635.7" y="412.8">valoración</text>
<circle cx="530.8" cy="653.8" r="57.5" fill="#F6B902"/>
<text class="ct" x="531" y="638.2" style="font-size:17.4px;fill:#FFFAE6">Emoción</text><text class="ct" x="531" y="659.5" style="font-size:17.4px;fill:#FFFAE6">con mayor</text><text class="ct" x="531" y="679.5" style="font-size:17.4px;fill:#FFFAE6">Alcance</text>
<rect x="356" y="89.5" width="197" height="30.5" fill="#139CF5"/>
<text class="bx" x="454.9" y="112.3" font-size="21.33" text-anchor="middle">INTENSIDAD ALTA</text>
<rect x="353" y="770" width="202" height="30.6" fill="#139CF5"/>
<text class="bx" x="454.5" y="792.6" font-size="21.33" text-anchor="middle">INTENSIDAD BAJA</text>
<rect x="715" y="197.2" width="194" height="42.4" fill="#63D136"/>
<text class="bx" x="818.8" y="227.4" font-size="25.9" text-anchor="middle">ACTIVACIÓN</text>
<rect x="782" y="279.5" width="127.5" height="68.5" fill="#63D136"/>
<text class="bx" x="850.7" y="308.7" font-size="22.4" text-anchor="middle">VALENCIA</text>
<text class="bx" x="851" y="335.4" font-size="22.4" text-anchor="middle">POSITIVA</text>
<rect x="12" y="641" width="144" height="65.8" fill="#EC2611"/>
<text class="bx" x="32.4" y="668.1" font-size="21.2">VALENCIA</text>
<text class="bx" x="32.6" y="693.2" font-size="21.0">NEGATIVA</text>
<rect x="9.5" y="730" width="241.2" height="37.8" fill="#EC2611"/>
<text class="bx" x="35.6" y="756.6" font-size="23.6">DESACTIVACIÓN</text>
<text class="lb" x="282.7" y="168.3">Tenso</text>
<text class="lb" x="179.3" y="209.3">Nervioso</text>
<text class="lb" x="121.7" y="276.1">Estresado</text>
<text class="lb" x="74.2" y="361.1">Trastornado</text>
<text class="lb" x="547.7" y="168.3">Alerta</text>
<text class="lb" x="636.0" y="208.9">Exitado</text>
<text class="lb" x="708.4" y="276.1">Exaltado</text>
<text class="lb" x="758.2" y="370.9">Alegre</text>
<text class="lb" x="726.4" y="564.7">Agradable</text>
<text class="lb" x="669.6" y="654.4">Sereno</text>
<text class="lb" x="549.2" y="720.5">Relajado</text>
<text class="lb" x="120.7" y="542.6">Triste</text>
<text class="lb" x="119.5" y="598.5">Deprimido</text>
<text class="lb" x="204.2" y="679.0">Aburrido</text>
<text class="lb" x="290.7" y="732.5">Fatigado</text>
<text class="ax" x="454.5" y="146.5" text-anchor="middle">Activación</text>
<line x1="409.2" y1="149.1" x2="499.2" y2="149.1" stroke="#000" stroke-width="1.7"/>
<text class="ax" x="448.6" y="754.4" text-anchor="middle">Desactivación</text>
<line x1="389.2" y1="756.5" x2="507.9" y2="756.5" stroke="#000" stroke-width="1.7"/>
<text class="ax" x="39.1" y="444.5">Displacentero</text>
<line x1="38.3" y1="447.1" x2="156" y2="447.1" stroke="#000" stroke-width="1.6"/>
<text class="ax" x="749" y="444.8">Placentero</text>
<line x1="747.8" y1="447.2" x2="838.8" y2="447.2" stroke="#000" stroke-width="1.9"/>
</svg></body></html>
